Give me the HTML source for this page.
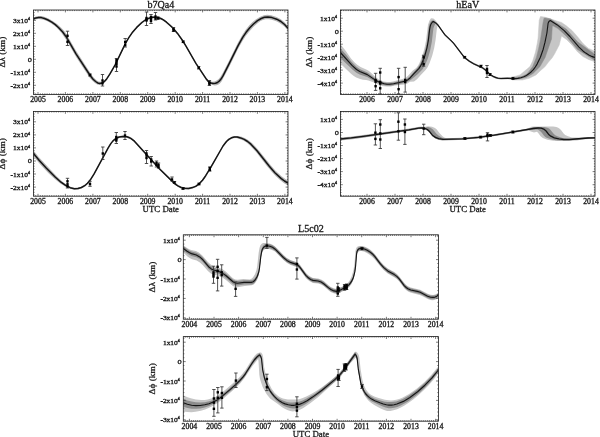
<!DOCTYPE html><html><head><meta charset="utf-8"><style>html,body{margin:0;padding:0;background:#fff;}svg{display:block;filter:blur(0.35px);}text{font-family:"Liberation Serif", serif;fill:#1a1a1a;stroke:#1a1a1a;stroke-width:0.3px;}</style></head><body>
<svg width="600" height="437" viewBox="0 0 600 437">
<rect width="600" height="437" fill="#fff"/>
<defs>
<clipPath id="c0"><rect x="33.5" y="10" width="254.5" height="84.4"/></clipPath>
<clipPath id="c1"><rect x="33.5" y="111.4" width="254.5" height="84.8"/></clipPath>
<clipPath id="c2"><rect x="340.4" y="10" width="254.6" height="84.4"/></clipPath>
<clipPath id="c3"><rect x="340.4" y="111.4" width="254.6" height="84.8"/></clipPath>
<clipPath id="c4"><rect x="183.3" y="234.8" width="255.1" height="84.4"/></clipPath>
<clipPath id="c5"><rect x="183.3" y="336.6" width="255.1" height="84.6"/></clipPath>
</defs>
<g clip-path="url(#c0)">
<path d="M33.5 17.5 35.9 16.4 38.7 15.9 41.7 16.1 44.9 16.9 48.5 18.5 52.3 20.7 57.3 24.2 60.7 27.2 64.3 31.1 66.7 34.5 75.9 50.6 91.5 74.7 93.9 77.7 96.3 80.1 98.3 81.4 100.3 81.8 102.5 81.4 104.7 80 106.7 77.8 110.1 72.8 115.1 63.9 125.5 42.2 128.7 36.7 132.1 31.8 136.7 26.4 141.7 21.6 145.7 18.7 149.7 16.9 152.5 16.3 155.3 16.2 158.1 16.6 160.5 17.4 163.1 18.7 166.1 20.9 169.3 23.5 172.5 26.6 177.3 32.1 181.9 38.5 185.9 45 196.1 62.8 206.3 77.8 207.5 79.2 208.9 80.5 210.5 81.3 212.1 81.7 214.5 81.4 216.7 80.5 218.7 79 220.5 76.8 222.9 72.8 228.7 61.5 237.9 42.7 242.3 34.9 245.7 29.7 249.3 25.2 252.3 22.2 255.7 19.4 259.7 16.9 263.9 15.2 267.3 14.8 271.1 15.2 275.9 16.7 280.5 19.1 284.5 22.2 287.9 26 287.9 30.4 284.1 26.2 279.5 22.9 276.9 21.5 274.1 20.4 271.5 19.7 268.9 19.2 265.7 19.3 262.9 19.9 260.5 21.1 257.5 23.3 253.3 27.1 248.9 32 245.7 36.1 242.5 41 237.7 49.5 229.3 66.7 221.7 81.2 220.1 83.2 218.5 84.5 216.7 85.2 214.7 85.4 212.7 85.1 210.1 84.1 208.5 83 206.9 81.2 195.7 64.1 186.1 47.3 182.1 40.8 177.1 33.9 172.1 28.2 168.9 25.2 165.7 22.6 162.7 20.5 160.3 19.3 157.9 18.6 155.1 18.2 152.3 18.4 149.5 19 145.5 20.8 141.5 23.8 136.5 28.6 131.9 34.1 128.7 38.7 125.7 43.9 114.7 66.7 112.1 71.5 109.1 76.3 106.3 80.5 104.3 82.8 101.9 84.5 99.5 85.1 97.3 84.6 94.9 83.1 92.1 80.5 89.5 77.4 76.1 56.9 66.3 39.9 61.5 33.1 56.5 27.6 54.1 25.5 50.5 23 46.9 21.1 43.5 19.8 40.7 19.2 38.1 19.1 35.7 19.5 33.5 20.5Z" fill="#b4b4b4"/>
<path d="M33.5 19 35.9 17.9 38.6 17.5 41.3 17.6 44.5 18.5 48 20 51.8 22.1 55.3 24.6 58.7 27.7 62.7 32 66.4 37.1 76 53.9 90.5 76 93.1 79.2 95.6 81.5 97.7 82.9 99.7 83.4 102.2 82.9 104.6 81.3 106.7 78.9 109.8 74.2 115 65.1 125.6 43.1 128.8 37.6 132.1 32.8 136.7 27.4 141.9 22.5 146 19.5 149.9 17.9 152.7 17.3 155.5 17.2 158.3 17.7 160.8 18.5 163.4 19.9 166.5 22.2 172.7 27.8 177.5 33.4 182.2 40 186 46.1 195.9 63.4 206.5 79.3 208 81.1 209.3 82.2 211.1 83 213 83.4 215.5 83.3 217.5 82.5 219.2 81.2 221 79.1 223 75.9 228.8 64.4 238.1 45.6 242.7 37.4 246.1 32.3 249.8 27.8 253.5 24 257.5 20.7 261.2 18.5 264.4 17.3 267.9 17 272 17.6 276.7 19.2 280.9 21.5 284.6 24.5 288 28.3" fill="none" stroke="#151515" stroke-width="1.5" stroke-linejoin="round"/>
<path d="M67.5 31.2V45.5M65.8 31.2h3.4M65.8 45.5h3.4" stroke="#333" stroke-width="0.85" fill="none"/>
<rect x="66.3" y="34.6" width="2.4" height="2.4" fill="#000"/>
<rect x="66.3" y="40.6" width="2.4" height="2.4" fill="#000"/>
<path d="M90 74V76M88.3 74h3.4M88.3 76h3.4" stroke="#333" stroke-width="0.85" fill="none"/>
<rect x="88.8" y="73.8" width="2.4" height="2.4" fill="#000"/>
<path d="M102.5 74.5V86M100.8 74.5h3.4M100.8 86h3.4" stroke="#333" stroke-width="0.85" fill="none"/>
<rect x="101.3" y="79.3" width="2.4" height="2.4" fill="#000"/>
<rect x="101.3" y="82.1" width="2.4" height="2.4" fill="#000"/>
<path d="M116.5 58.5V71.5M114.8 58.5h3.4M114.8 71.5h3.4" stroke="#333" stroke-width="0.85" fill="none"/>
<rect x="115.3" y="58.8" width="2.4" height="2.4" fill="#000"/>
<rect x="115.3" y="60.8" width="2.4" height="2.4" fill="#000"/>
<rect x="115.3" y="62.8" width="2.4" height="2.4" fill="#000"/>
<rect x="115.3" y="65.3" width="2.4" height="2.4" fill="#000"/>
<path d="M125.2 38.5V47M123.5 38.5h3.4M123.5 47h3.4" stroke="#333" stroke-width="0.85" fill="none"/>
<rect x="124" y="40.8" width="2.4" height="2.4" fill="#000"/>
<rect x="124" y="43.8" width="2.4" height="2.4" fill="#000"/>
<path d="M146.5 12V25.5M144.8 12h3.4M144.8 25.5h3.4" stroke="#333" stroke-width="0.85" fill="none"/>
<rect x="145.3" y="16.8" width="2.4" height="2.4" fill="#000"/>
<rect x="145.3" y="18.3" width="2.4" height="2.4" fill="#000"/>
<rect x="145.3" y="19.3" width="2.4" height="2.4" fill="#000"/>
<path d="M151 14.5V23.5M149.3 14.5h3.4M149.3 23.5h3.4" stroke="#333" stroke-width="0.85" fill="none"/>
<rect x="149.8" y="15.8" width="2.4" height="2.4" fill="#000"/>
<rect x="149.8" y="17.8" width="2.4" height="2.4" fill="#000"/>
<rect x="149.8" y="19.8" width="2.4" height="2.4" fill="#000"/>
<path d="M155.5 12.5V20M153.8 12.5h3.4M153.8 20h3.4" stroke="#333" stroke-width="0.85" fill="none"/>
<rect x="154.3" y="15.3" width="2.4" height="2.4" fill="#000"/>
<rect x="154.3" y="17.3" width="2.4" height="2.4" fill="#000"/>
<path d="M158 17V19.5M156.3 17h3.4M156.3 19.5h3.4" stroke="#333" stroke-width="0.85" fill="none"/>
<rect x="156.8" y="16.8" width="2.4" height="2.4" fill="#000"/>
<path d="M173.5 27.5V31.5M171.8 27.5h3.4M171.8 31.5h3.4" stroke="#333" stroke-width="0.85" fill="none"/>
<rect x="172.3" y="27.8" width="2.4" height="2.4" fill="#000"/>
<rect x="172.3" y="29.3" width="2.4" height="2.4" fill="#000"/>
<path d="M183.2 41V42.6M181.5 41h3.4M181.5 42.6h3.4" stroke="#333" stroke-width="0.85" fill="none"/>
<rect x="182" y="40.6" width="2.4" height="2.4" fill="#000"/>
<path d="M198.7 66.5V69M197 66.5h3.4M197 69h3.4" stroke="#333" stroke-width="0.85" fill="none"/>
<rect x="197.5" y="66.5" width="2.4" height="2.4" fill="#000"/>
<path d="M209.4 80.5V85.5M207.7 80.5h3.4M207.7 85.5h3.4" stroke="#333" stroke-width="0.85" fill="none"/>
<rect x="208.2" y="81.3" width="2.4" height="2.4" fill="#000"/>
<rect x="208.2" y="82.8" width="2.4" height="2.4" fill="#000"/>
</g>
<path d="M35.7 94.4v-1.1M35.7 10v1.1M38 94.4v-2.4M38 10v2.4M40.3 94.4v-1.1M40.3 10v1.1M42.6 94.4v-1.1M42.6 10v1.1M44.9 94.4v-1.1M44.9 10v1.1M47.1 94.4v-1.1M47.1 10v1.1M49.4 94.4v-1.1M49.4 10v1.1M51.7 94.4v-1.1M51.7 10v1.1M54 94.4v-1.1M54 10v1.1M56.3 94.4v-1.1M56.3 10v1.1M58.6 94.4v-1.1M58.6 10v1.1M60.9 94.4v-1.1M60.9 10v1.1M63.1 94.4v-1.1M63.1 10v1.1M65.4 94.4v-2.4M65.4 10v2.4M67.7 94.4v-1.1M67.7 10v1.1M70 94.4v-1.1M70 10v1.1M72.3 94.4v-1.1M72.3 10v1.1M74.6 94.4v-1.1M74.6 10v1.1M76.9 94.4v-1.1M76.9 10v1.1M79.1 94.4v-1.1M79.1 10v1.1M81.4 94.4v-1.1M81.4 10v1.1M83.7 94.4v-1.1M83.7 10v1.1M86 94.4v-1.1M86 10v1.1M88.3 94.4v-1.1M88.3 10v1.1M90.6 94.4v-1.1M90.6 10v1.1M92.9 94.4v-2.4M92.9 10v2.4M95.1 94.4v-1.1M95.1 10v1.1M97.4 94.4v-1.1M97.4 10v1.1M99.7 94.4v-1.1M99.7 10v1.1M102 94.4v-1.1M102 10v1.1M104.3 94.4v-1.1M104.3 10v1.1M106.6 94.4v-1.1M106.6 10v1.1M108.9 94.4v-1.1M108.9 10v1.1M111.1 94.4v-1.1M111.1 10v1.1M113.4 94.4v-1.1M113.4 10v1.1M115.7 94.4v-1.1M115.7 10v1.1M118 94.4v-1.1M118 10v1.1M120.3 94.4v-2.4M120.3 10v2.4M122.6 94.4v-1.1M122.6 10v1.1M124.9 94.4v-1.1M124.9 10v1.1M127.1 94.4v-1.1M127.1 10v1.1M129.4 94.4v-1.1M129.4 10v1.1M131.7 94.4v-1.1M131.7 10v1.1M134 94.4v-1.1M134 10v1.1M136.3 94.4v-1.1M136.3 10v1.1M138.6 94.4v-1.1M138.6 10v1.1M140.9 94.4v-1.1M140.9 10v1.1M143.1 94.4v-1.1M143.1 10v1.1M145.4 94.4v-1.1M145.4 10v1.1M147.7 94.4v-2.4M147.7 10v2.4M150 94.4v-1.1M150 10v1.1M152.3 94.4v-1.1M152.3 10v1.1M154.6 94.4v-1.1M154.6 10v1.1M156.9 94.4v-1.1M156.9 10v1.1M159.1 94.4v-1.1M159.1 10v1.1M161.4 94.4v-1.1M161.4 10v1.1M163.7 94.4v-1.1M163.7 10v1.1M166 94.4v-1.1M166 10v1.1M168.3 94.4v-1.1M168.3 10v1.1M170.6 94.4v-1.1M170.6 10v1.1M172.9 94.4v-1.1M172.9 10v1.1M175.2 94.4v-2.4M175.2 10v2.4M177.4 94.4v-1.1M177.4 10v1.1M179.7 94.4v-1.1M179.7 10v1.1M182 94.4v-1.1M182 10v1.1M184.3 94.4v-1.1M184.3 10v1.1M186.6 94.4v-1.1M186.6 10v1.1M188.9 94.4v-1.1M188.9 10v1.1M191.2 94.4v-1.1M191.2 10v1.1M193.4 94.4v-1.1M193.4 10v1.1M195.7 94.4v-1.1M195.7 10v1.1M198 94.4v-1.1M198 10v1.1M200.3 94.4v-1.1M200.3 10v1.1M202.6 94.4v-2.4M202.6 10v2.4M204.9 94.4v-1.1M204.9 10v1.1M207.2 94.4v-1.1M207.2 10v1.1M209.4 94.4v-1.1M209.4 10v1.1M211.7 94.4v-1.1M211.7 10v1.1M214 94.4v-1.1M214 10v1.1M216.3 94.4v-1.1M216.3 10v1.1M218.6 94.4v-1.1M218.6 10v1.1M220.9 94.4v-1.1M220.9 10v1.1M223.2 94.4v-1.1M223.2 10v1.1M225.4 94.4v-1.1M225.4 10v1.1M227.7 94.4v-1.1M227.7 10v1.1M230 94.4v-2.4M230 10v2.4M232.3 94.4v-1.1M232.3 10v1.1M234.6 94.4v-1.1M234.6 10v1.1M236.9 94.4v-1.1M236.9 10v1.1M239.2 94.4v-1.1M239.2 10v1.1M241.4 94.4v-1.1M241.4 10v1.1M243.7 94.4v-1.1M243.7 10v1.1M246 94.4v-1.1M246 10v1.1M248.3 94.4v-1.1M248.3 10v1.1M250.6 94.4v-1.1M250.6 10v1.1M252.9 94.4v-1.1M252.9 10v1.1M255.2 94.4v-1.1M255.2 10v1.1M257.4 94.4v-2.4M257.4 10v2.4M259.7 94.4v-1.1M259.7 10v1.1M262 94.4v-1.1M262 10v1.1M264.3 94.4v-1.1M264.3 10v1.1M266.6 94.4v-1.1M266.6 10v1.1M268.9 94.4v-1.1M268.9 10v1.1M271.2 94.4v-1.1M271.2 10v1.1M273.4 94.4v-1.1M273.4 10v1.1M275.7 94.4v-1.1M275.7 10v1.1M278 94.4v-1.1M278 10v1.1M280.3 94.4v-1.1M280.3 10v1.1M282.6 94.4v-1.1M282.6 10v1.1M284.9 94.4v-2.4M284.9 10v2.4M287.2 94.4v-1.1M287.2 10v1.1M33.5 93h1.1M288 93h-1.1M33.5 90.5h1.1M288 90.5h-1.1M33.5 87.9h1.1M288 87.9h-1.1M33.5 85.3h2.4M288 85.3h-2.4M33.5 82.7h1.1M288 82.7h-1.1M33.5 80.1h1.1M288 80.1h-1.1M33.5 77.5h1.1M288 77.5h-1.1M33.5 74.9h1.1M288 74.9h-1.1M33.5 72.3h2.4M288 72.3h-2.4M33.5 69.7h1.1M288 69.7h-1.1M33.5 67.1h1.1M288 67.1h-1.1M33.5 64.5h1.1M288 64.5h-1.1M33.5 61.9h1.1M288 61.9h-1.1M33.5 59.3h2.4M288 59.3h-2.4M33.5 56.7h1.1M288 56.7h-1.1M33.5 54.1h1.1M288 54.1h-1.1M33.5 51.5h1.1M288 51.5h-1.1M33.5 48.9h1.1M288 48.9h-1.1M33.5 46.3h2.4M288 46.3h-2.4M33.5 43.7h1.1M288 43.7h-1.1M33.5 41.1h1.1M288 41.1h-1.1M33.5 38.5h1.1M288 38.5h-1.1M33.5 35.9h1.1M288 35.9h-1.1M33.5 33.3h2.4M288 33.3h-2.4M33.5 30.7h1.1M288 30.7h-1.1M33.5 28.1h1.1M288 28.1h-1.1M33.5 25.6h1.1M288 25.6h-1.1M33.5 23h1.1M288 23h-1.1M33.5 20.4h2.4M288 20.4h-2.4M33.5 17.8h1.1M288 17.8h-1.1M33.5 15.2h1.1M288 15.2h-1.1M33.5 12.6h1.1M288 12.6h-1.1" stroke="#222" stroke-width="0.6" fill="none"/>
<rect x="33.5" y="10" width="254.5" height="84.4" fill="none" stroke="#1a1a1a" stroke-width="0.8"/>
<text transform="translate(38 102.3) scale(1.07 1)" font-size="7.3" text-anchor="middle">2005</text>
<text transform="translate(65.4 102.3) scale(1.07 1)" font-size="7.3" text-anchor="middle">2006</text>
<text transform="translate(92.9 102.3) scale(1.07 1)" font-size="7.3" text-anchor="middle">2007</text>
<text transform="translate(120.3 102.3) scale(1.07 1)" font-size="7.3" text-anchor="middle">2008</text>
<text transform="translate(147.7 102.3) scale(1.07 1)" font-size="7.3" text-anchor="middle">2009</text>
<text transform="translate(175.2 102.3) scale(1.07 1)" font-size="7.3" text-anchor="middle">2010</text>
<text transform="translate(202.6 102.3) scale(1.07 1)" font-size="7.3" text-anchor="middle">2011</text>
<text transform="translate(230 102.3) scale(1.07 1)" font-size="7.3" text-anchor="middle">2012</text>
<text transform="translate(257.4 102.3) scale(1.07 1)" font-size="7.3" text-anchor="middle">2013</text>
<text transform="translate(284.9 102.3) scale(1.07 1)" font-size="7.3" text-anchor="middle">2014</text>
<text transform="translate(30.1 22.9) scale(1.15 1)" font-size="6.5" text-anchor="end">3x10<tspan font-size="4.0" dy="-2.9" dx="-0.2">4</tspan></text>
<text transform="translate(30.1 35.8) scale(1.15 1)" font-size="6.5" text-anchor="end">2x10<tspan font-size="4.0" dy="-2.9" dx="-0.2">4</tspan></text>
<text transform="translate(30.1 48.8) scale(1.15 1)" font-size="6.5" text-anchor="end">1x10<tspan font-size="4.0" dy="-2.9" dx="-0.2">4</tspan></text>
<text transform="translate(32 61.7) scale(1.2 1)" font-size="7.0" text-anchor="end">0</text>
<text transform="translate(30.1 74.8) scale(1.15 1)" font-size="6.5" text-anchor="end">-1x10<tspan font-size="4.0" dy="-2.9" dx="-0.2">4</tspan></text>
<text transform="translate(30.1 87.8) scale(1.15 1)" font-size="6.5" text-anchor="end">-2x10<tspan font-size="4.0" dy="-2.9" dx="-0.2">4</tspan></text>
<text transform="translate(5.1 52.2) rotate(-90) scale(1 0.78)" font-size="9.3" text-anchor="middle">Δλ (km)</text>
<text transform="translate(160.8 7.6) scale(1.07 1)" font-size="9.4" text-anchor="middle">b7Qa4</text>
<g clip-path="url(#c1)">
<path d="M33.5 150.5 38.7 156.9 44.7 163.6 56.7 176.2 62.3 181.4 66.3 184.5 70.1 186.7 74.1 187.7 77.7 187.6 81.1 186.7 84.5 184.8 87.5 182.3 90.3 179 94.1 173 108.3 146.6 110.9 142.5 113.1 139.8 115.9 137.5 119.3 136 123.1 135.4 126.9 135.8 128.9 136.4 130.9 137.4 134.5 140.3 159.3 167.7 174.5 182.5 177.9 185 181.1 186.5 184.7 187.3 188.3 187.4 192.3 186.7 195.9 185.2 199.1 182.8 202.3 179.5 205.5 175 210.7 166.6 223.1 144.9 224.9 142.3 226.7 140.2 229.3 138 231.9 136.7 234.5 136.1 238.1 136 241.7 136.8 245.1 138.2 248.5 140.3 251.9 143 255.1 146.2 259.1 150.7 270.1 164.6 275.3 170.5 281.5 176.3 287.9 180.7 287.9 185.5 284.1 183.2 280.3 180.3 275.9 176.3 271.5 171.6 266.5 165.5 256.1 152.1 250.5 145.9 246.9 142.8 243.3 140.5 239.5 138.9 236.1 138.1 233.3 138.3 230.3 139.4 227.7 141.2 225.1 144 222.3 148.3 214.7 161.9 207.3 174.2 203.9 179.4 200.9 183.1 198.1 185.7 195.3 187.5 192.1 188.8 188.7 189.4 184.9 189.4 181.3 188.6 178.1 187.1 174.7 184.6 159.5 169.9 134.5 142.3 132.5 140.5 130.7 139.3 128.7 138.4 126.7 137.8 122.9 137.4 119.1 138.1 115.7 139.6 112.9 142 110.7 144.8 108.1 148.9 94.1 175 90.3 181 87.5 184.3 84.7 186.7 81.5 188.5 78.3 189.5 74.7 189.7 71.1 189 65.5 186.8 60.3 183.6 55.1 179.3 48.3 173 40.3 164.5 33.5 156.5Z" fill="#b4b4b4"/>
<path d="M33.5 153.5 39.3 160.5 46.2 168 55.4 177.3 61 182.2 65.6 185.4 70.2 187.7 74.3 188.7 78 188.5 81.4 187.5 84.7 185.7 87.5 183.3 90.2 180.1 94.1 173.9 108.2 147.8 110.8 143.6 113 140.9 115.8 138.5 119.2 137 122.9 136.4 126.9 136.8 128.9 137.5 130.8 138.4 134.4 141.2 159.4 168.8 174.6 183.6 177.9 185.9 181.2 187.5 184.9 188.3 188.6 188.4 192.5 187.6 196.1 186.1 199.4 183.6 202.5 180.2 205.7 175.7 210.9 167.2 223 146 226.5 141.5 228.8 139.4 231.5 137.8 234.3 137.1 237.2 137.1 240.6 137.9 244.2 139.4 247.6 141.5 250.9 144.2 257 150.7 269.3 166.3 274.9 172.7 281.3 178.6 284.5 181 288 183.2" fill="none" stroke="#151515" stroke-width="1.5" stroke-linejoin="round"/>
<path d="M67.5 178.3V188M65.8 178.3h3.4M65.8 188h3.4" stroke="#333" stroke-width="0.85" fill="none"/>
<rect x="66.3" y="180.1" width="2.4" height="2.4" fill="#000"/>
<rect x="66.3" y="183.1" width="2.4" height="2.4" fill="#000"/>
<rect x="66.3" y="185.1" width="2.4" height="2.4" fill="#000"/>
<path d="M90 181.3V186.3M88.3 181.3h3.4M88.3 186.3h3.4" stroke="#333" stroke-width="0.85" fill="none"/>
<rect x="88.8" y="182.8" width="2.4" height="2.4" fill="#000"/>
<path d="M102.8 147V159.5M101.1 147h3.4M101.1 159.5h3.4" stroke="#333" stroke-width="0.85" fill="none"/>
<rect x="101.6" y="152.3" width="2.4" height="2.4" fill="#000"/>
<path d="M116.3 132.5V143.5M114.6 132.5h3.4M114.6 143.5h3.4" stroke="#333" stroke-width="0.85" fill="none"/>
<rect x="115.1" y="135.8" width="2.4" height="2.4" fill="#000"/>
<rect x="115.1" y="137.8" width="2.4" height="2.4" fill="#000"/>
<rect x="115.1" y="139.3" width="2.4" height="2.4" fill="#000"/>
<path d="M125 131.5V139.5M123.3 131.5h3.4M123.3 139.5h3.4" stroke="#333" stroke-width="0.85" fill="none"/>
<rect x="123.8" y="134.3" width="2.4" height="2.4" fill="#000"/>
<path d="M146.5 150.5V163.5M144.8 150.5h3.4M144.8 163.5h3.4" stroke="#333" stroke-width="0.85" fill="none"/>
<rect x="145.3" y="152.3" width="2.4" height="2.4" fill="#000"/>
<rect x="145.3" y="154.3" width="2.4" height="2.4" fill="#000"/>
<rect x="145.3" y="156.8" width="2.4" height="2.4" fill="#000"/>
<path d="M151.2 156.5V166M149.5 156.5h3.4M149.5 166h3.4" stroke="#333" stroke-width="0.85" fill="none"/>
<rect x="150" y="158.3" width="2.4" height="2.4" fill="#000"/>
<rect x="150" y="160.3" width="2.4" height="2.4" fill="#000"/>
<path d="M156.5 161V167M154.8 161h3.4M154.8 167h3.4" stroke="#333" stroke-width="0.85" fill="none"/>
<rect x="155.3" y="161.8" width="2.4" height="2.4" fill="#000"/>
<rect x="155.3" y="163.8" width="2.4" height="2.4" fill="#000"/>
<path d="M158.5 163V168M156.8 163h3.4M156.8 168h3.4" stroke="#333" stroke-width="0.85" fill="none"/>
<rect x="157.3" y="163.8" width="2.4" height="2.4" fill="#000"/>
<rect x="157.3" y="165.8" width="2.4" height="2.4" fill="#000"/>
<path d="M172 177V181M170.3 177h3.4M170.3 181h3.4" stroke="#333" stroke-width="0.85" fill="none"/>
<rect x="170.8" y="178.3" width="2.4" height="2.4" fill="#000"/>
<path d="M174.5 181.5V183.5M172.8 181.5h3.4M172.8 183.5h3.4" stroke="#333" stroke-width="0.85" fill="none"/>
<rect x="173.3" y="181.3" width="2.4" height="2.4" fill="#000"/>
<path d="M183 187.7V189.3M181.3 187.7h3.4M181.3 189.3h3.4" stroke="#333" stroke-width="0.85" fill="none"/>
<rect x="181.8" y="187.3" width="2.4" height="2.4" fill="#000"/>
<path d="M199 183.2V184.8M197.3 183.2h3.4M197.3 184.8h3.4" stroke="#333" stroke-width="0.85" fill="none"/>
<rect x="197.8" y="182.8" width="2.4" height="2.4" fill="#000"/>
<path d="M209.8 167V171M208.1 167h3.4M208.1 171h3.4" stroke="#333" stroke-width="0.85" fill="none"/>
<rect x="208.6" y="166.8" width="2.4" height="2.4" fill="#000"/>
<rect x="208.6" y="168.8" width="2.4" height="2.4" fill="#000"/>
</g>
<path d="M35.7 196.2v-1.1M35.7 111.4v1.1M38 196.2v-2.4M38 111.4v2.4M40.3 196.2v-1.1M40.3 111.4v1.1M42.6 196.2v-1.1M42.6 111.4v1.1M44.9 196.2v-1.1M44.9 111.4v1.1M47.1 196.2v-1.1M47.1 111.4v1.1M49.4 196.2v-1.1M49.4 111.4v1.1M51.7 196.2v-1.1M51.7 111.4v1.1M54 196.2v-1.1M54 111.4v1.1M56.3 196.2v-1.1M56.3 111.4v1.1M58.6 196.2v-1.1M58.6 111.4v1.1M60.9 196.2v-1.1M60.9 111.4v1.1M63.1 196.2v-1.1M63.1 111.4v1.1M65.4 196.2v-2.4M65.4 111.4v2.4M67.7 196.2v-1.1M67.7 111.4v1.1M70 196.2v-1.1M70 111.4v1.1M72.3 196.2v-1.1M72.3 111.4v1.1M74.6 196.2v-1.1M74.6 111.4v1.1M76.9 196.2v-1.1M76.9 111.4v1.1M79.1 196.2v-1.1M79.1 111.4v1.1M81.4 196.2v-1.1M81.4 111.4v1.1M83.7 196.2v-1.1M83.7 111.4v1.1M86 196.2v-1.1M86 111.4v1.1M88.3 196.2v-1.1M88.3 111.4v1.1M90.6 196.2v-1.1M90.6 111.4v1.1M92.9 196.2v-2.4M92.9 111.4v2.4M95.1 196.2v-1.1M95.1 111.4v1.1M97.4 196.2v-1.1M97.4 111.4v1.1M99.7 196.2v-1.1M99.7 111.4v1.1M102 196.2v-1.1M102 111.4v1.1M104.3 196.2v-1.1M104.3 111.4v1.1M106.6 196.2v-1.1M106.6 111.4v1.1M108.9 196.2v-1.1M108.9 111.4v1.1M111.1 196.2v-1.1M111.1 111.4v1.1M113.4 196.2v-1.1M113.4 111.4v1.1M115.7 196.2v-1.1M115.7 111.4v1.1M118 196.2v-1.1M118 111.4v1.1M120.3 196.2v-2.4M120.3 111.4v2.4M122.6 196.2v-1.1M122.6 111.4v1.1M124.9 196.2v-1.1M124.9 111.4v1.1M127.1 196.2v-1.1M127.1 111.4v1.1M129.4 196.2v-1.1M129.4 111.4v1.1M131.7 196.2v-1.1M131.7 111.4v1.1M134 196.2v-1.1M134 111.4v1.1M136.3 196.2v-1.1M136.3 111.4v1.1M138.6 196.2v-1.1M138.6 111.4v1.1M140.9 196.2v-1.1M140.9 111.4v1.1M143.1 196.2v-1.1M143.1 111.4v1.1M145.4 196.2v-1.1M145.4 111.4v1.1M147.7 196.2v-2.4M147.7 111.4v2.4M150 196.2v-1.1M150 111.4v1.1M152.3 196.2v-1.1M152.3 111.4v1.1M154.6 196.2v-1.1M154.6 111.4v1.1M156.9 196.2v-1.1M156.9 111.4v1.1M159.1 196.2v-1.1M159.1 111.4v1.1M161.4 196.2v-1.1M161.4 111.4v1.1M163.7 196.2v-1.1M163.7 111.4v1.1M166 196.2v-1.1M166 111.4v1.1M168.3 196.2v-1.1M168.3 111.4v1.1M170.6 196.2v-1.1M170.6 111.4v1.1M172.9 196.2v-1.1M172.9 111.4v1.1M175.2 196.2v-2.4M175.2 111.4v2.4M177.4 196.2v-1.1M177.4 111.4v1.1M179.7 196.2v-1.1M179.7 111.4v1.1M182 196.2v-1.1M182 111.4v1.1M184.3 196.2v-1.1M184.3 111.4v1.1M186.6 196.2v-1.1M186.6 111.4v1.1M188.9 196.2v-1.1M188.9 111.4v1.1M191.2 196.2v-1.1M191.2 111.4v1.1M193.4 196.2v-1.1M193.4 111.4v1.1M195.7 196.2v-1.1M195.7 111.4v1.1M198 196.2v-1.1M198 111.4v1.1M200.3 196.2v-1.1M200.3 111.4v1.1M202.6 196.2v-2.4M202.6 111.4v2.4M204.9 196.2v-1.1M204.9 111.4v1.1M207.2 196.2v-1.1M207.2 111.4v1.1M209.4 196.2v-1.1M209.4 111.4v1.1M211.7 196.2v-1.1M211.7 111.4v1.1M214 196.2v-1.1M214 111.4v1.1M216.3 196.2v-1.1M216.3 111.4v1.1M218.6 196.2v-1.1M218.6 111.4v1.1M220.9 196.2v-1.1M220.9 111.4v1.1M223.2 196.2v-1.1M223.2 111.4v1.1M225.4 196.2v-1.1M225.4 111.4v1.1M227.7 196.2v-1.1M227.7 111.4v1.1M230 196.2v-2.4M230 111.4v2.4M232.3 196.2v-1.1M232.3 111.4v1.1M234.6 196.2v-1.1M234.6 111.4v1.1M236.9 196.2v-1.1M236.9 111.4v1.1M239.2 196.2v-1.1M239.2 111.4v1.1M241.4 196.2v-1.1M241.4 111.4v1.1M243.7 196.2v-1.1M243.7 111.4v1.1M246 196.2v-1.1M246 111.4v1.1M248.3 196.2v-1.1M248.3 111.4v1.1M250.6 196.2v-1.1M250.6 111.4v1.1M252.9 196.2v-1.1M252.9 111.4v1.1M255.2 196.2v-1.1M255.2 111.4v1.1M257.4 196.2v-2.4M257.4 111.4v2.4M259.7 196.2v-1.1M259.7 111.4v1.1M262 196.2v-1.1M262 111.4v1.1M264.3 196.2v-1.1M264.3 111.4v1.1M266.6 196.2v-1.1M266.6 111.4v1.1M268.9 196.2v-1.1M268.9 111.4v1.1M271.2 196.2v-1.1M271.2 111.4v1.1M273.4 196.2v-1.1M273.4 111.4v1.1M275.7 196.2v-1.1M275.7 111.4v1.1M278 196.2v-1.1M278 111.4v1.1M280.3 196.2v-1.1M280.3 111.4v1.1M282.6 196.2v-1.1M282.6 111.4v1.1M284.9 196.2v-2.4M284.9 111.4v2.4M287.2 196.2v-1.1M287.2 111.4v1.1M33.5 194.9h1.1M288 194.9h-1.1M33.5 192.3h1.1M288 192.3h-1.1M33.5 189.7h1.1M288 189.7h-1.1M33.5 187.1h2.4M288 187.1h-2.4M33.5 184.5h1.1M288 184.5h-1.1M33.5 181.9h1.1M288 181.9h-1.1M33.5 179.3h1.1M288 179.3h-1.1M33.5 176.7h1.1M288 176.7h-1.1M33.5 174h2.4M288 174h-2.4M33.5 171.4h1.1M288 171.4h-1.1M33.5 168.8h1.1M288 168.8h-1.1M33.5 166.2h1.1M288 166.2h-1.1M33.5 163.6h1.1M288 163.6h-1.1M33.5 161h2.4M288 161h-2.4M33.5 158.4h1.1M288 158.4h-1.1M33.5 155.8h1.1M288 155.8h-1.1M33.5 153.2h1.1M288 153.2h-1.1M33.5 150.6h1.1M288 150.6h-1.1M33.5 147.9h2.4M288 147.9h-2.4M33.5 145.3h1.1M288 145.3h-1.1M33.5 142.7h1.1M288 142.7h-1.1M33.5 140.1h1.1M288 140.1h-1.1M33.5 137.5h1.1M288 137.5h-1.1M33.5 134.9h2.4M288 134.9h-2.4M33.5 132.3h1.1M288 132.3h-1.1M33.5 129.7h1.1M288 129.7h-1.1M33.5 127.1h1.1M288 127.1h-1.1M33.5 124.5h1.1M288 124.5h-1.1M33.5 121.8h2.4M288 121.8h-2.4M33.5 119.2h1.1M288 119.2h-1.1M33.5 116.6h1.1M288 116.6h-1.1M33.5 114h1.1M288 114h-1.1" stroke="#222" stroke-width="0.6" fill="none"/>
<rect x="33.5" y="111.4" width="254.5" height="84.8" fill="none" stroke="#1a1a1a" stroke-width="0.8"/>
<text transform="translate(38 204.1) scale(1.07 1)" font-size="7.3" text-anchor="middle">2005</text>
<text transform="translate(65.4 204.1) scale(1.07 1)" font-size="7.3" text-anchor="middle">2006</text>
<text transform="translate(92.9 204.1) scale(1.07 1)" font-size="7.3" text-anchor="middle">2007</text>
<text transform="translate(120.3 204.1) scale(1.07 1)" font-size="7.3" text-anchor="middle">2008</text>
<text transform="translate(147.7 204.1) scale(1.07 1)" font-size="7.3" text-anchor="middle">2009</text>
<text transform="translate(175.2 204.1) scale(1.07 1)" font-size="7.3" text-anchor="middle">2010</text>
<text transform="translate(202.6 204.1) scale(1.07 1)" font-size="7.3" text-anchor="middle">2011</text>
<text transform="translate(230 204.1) scale(1.07 1)" font-size="7.3" text-anchor="middle">2012</text>
<text transform="translate(257.4 204.1) scale(1.07 1)" font-size="7.3" text-anchor="middle">2013</text>
<text transform="translate(284.9 204.1) scale(1.07 1)" font-size="7.3" text-anchor="middle">2014</text>
<text transform="translate(30.1 124.3) scale(1.15 1)" font-size="6.5" text-anchor="end">3x10<tspan font-size="4.0" dy="-2.9" dx="-0.2">4</tspan></text>
<text transform="translate(30.1 137.4) scale(1.15 1)" font-size="6.5" text-anchor="end">2x10<tspan font-size="4.0" dy="-2.9" dx="-0.2">4</tspan></text>
<text transform="translate(30.1 150.4) scale(1.15 1)" font-size="6.5" text-anchor="end">1x10<tspan font-size="4.0" dy="-2.9" dx="-0.2">4</tspan></text>
<text transform="translate(32 163.4) scale(1.2 1)" font-size="7.0" text-anchor="end">0</text>
<text transform="translate(30.1 176.6) scale(1.15 1)" font-size="6.5" text-anchor="end">-1x10<tspan font-size="4.0" dy="-2.9" dx="-0.2">4</tspan></text>
<text transform="translate(30.1 189.6) scale(1.15 1)" font-size="6.5" text-anchor="end">-2x10<tspan font-size="4.0" dy="-2.9" dx="-0.2">4</tspan></text>
<text transform="translate(5.1 153.8) rotate(-90) scale(1 0.78)" font-size="9.3" text-anchor="middle">Δϕ (km)</text>
<text x="160.8" y="212" font-size="8.8" text-anchor="middle">UTC Date</text>
<g clip-path="url(#c2)">
<path d="M340.4 44 346 51.2 351 58.5 354.4 62.3 357.2 64.8 360.6 67.1 366.2 69.5 369 71.1 375.6 77.1 379 79.8 383.4 81.4 387.2 82 390 81.9 393 81.5 405 78.2 407.8 75.9 412.8 70.5 416.2 67.9 417.4 66.6 419 63.9 420.4 60.8 423.6 51.5 425 45.8 426 40.6 428 24.8 429.4 20.7 431 18.2 433.4 18.5 435.4 20.3 438.4 24.3 444.6 33.5 453.2 41.9 456 45.3 461.8 53.2 465.6 57.3 468.4 59.5 471.8 61.7 480.8 65.9 483.2 67.3 485.4 69 489.6 73.1 491.8 74.7 494.4 76.1 497.4 77 501 77.5 507.8 77.2 514.2 77.7 519.2 77.1 522.8 76.1 526.4 74.4 529.6 72.2 532.6 69.4 535.2 66.2 537.4 62.5 539.6 58 541.8 52.4 543.8 46.1 545.4 39.5 547.2 30.3 548.2 21.9 549 20.4 550.2 19.5 553.2 21.2 557 23.7 564 29.4 569.8 35.3 579 46.2 583.2 50.2 585.8 52.1 588.8 53.9 591.8 55.3 595 56.5 595 58.5 594 58.2 588.6 55.8 583.8 52.7 579.2 48.4 569.8 37.3 564 31.4 557 25.7 553.2 23.2 550.2 21.5 548.8 22.6 548 24.7 547 33.4 545 43.3 543.4 49.5 540.6 57.6 537.4 64.5 533.8 70 531.8 72.3 529.6 74.2 527.2 75.9 524.6 77.3 521.8 78.4 519 79.2 514.8 79.7 507.8 79.2 501.2 79.5 498.4 79.2 495.6 78.5 493 77.4 490.6 75.9 485 70.6 482.8 69 473.6 64.7 469.4 62.2 466 59.7 463 56.7 453.6 44.3 444.6 35.5 439.6 28.2 437.6 25.7 436.8 29.2 435.6 39.8 434.2 48 432.2 55.8 429.6 63.1 427.6 67.2 425.6 70 420.8 74.9 417 79.2 414 81.4 410 81.8 407.4 83.4 404.4 84.4 395 85.6 390.8 86.5 386.8 86.6 382.2 86 378.2 84.6 374 82.6 368.4 80.5 366.2 80 363 79.7 360.2 79.1 356.2 77.5 353.8 76 351 73.8 346 69.1 340.4 63.5Z" fill="#c6c6c6"/>
<path d="M512 77.3 520 74.9 530 66.6 532.7 61 535.5 52 537.3 43 538.1 38 539.2 20.3 540.5 16.5 543.6 16.9 549.8 18.6 556.7 21 561.5 22.4 566.3 25.8 572 30.5 577.5 36.7 583 43.6 588.5 48.4 595 51.3 595 61.8 588.5 59.4 583 56.6 577.5 51.8 572 45 566.5 39.5 561.5 36 559.2 45 554.5 54 552 58 548.5 62 545.1 66.6 540 71 536 74.9 529.2 78.3 522.3 80 512 80Z" fill="#c6c6c6" stroke="#c6c6c6" stroke-width="0.5" stroke-linejoin="round"/>
<path d="M340.4 48.5 346 54.6 351 61.3 356.2 66.6 359.6 68.9 367.4 72.6 374.8 78.1 378.2 80.2 381 81.4 383.6 82.2 386.4 82.7 389 82.8 393.2 82.4 404.2 80 407 78.7 409.8 76.4 413.6 71.9 417.8 67.6 419.2 65.6 420.6 63 423.4 56 425.8 47.5 427.2 40.2 428.6 28.1 429.4 24.3 431 21.1 432.2 20.4 433.4 20.3 435.8 21.9 437.8 23.9 444.6 33.7 453.6 42.5 463.2 55.1 465.8 57.7 469 60.2 473.6 62.9 482.8 67.2 485 68.8 490.6 74.1 492.8 75.5 495.2 76.6 498 77.4 500.8 77.7 507.6 77.4 513.8 77.8 517.6 77.6 520.6 77 523.4 76 526.2 74.7 528.8 73 531.2 71 533.2 69 535.2 66.4 537 63.5 540.2 56.8 543.2 48.4 544.8 42.4 546.8 32.7 547.4 29.1 548 22.9 548.8 20.8 550.2 19.7 553.2 21.4 557 23.9 564 29.6 569.8 35.5 579 46.4 583.2 50.4 585.8 52.3 588.8 54.1 591.8 55.5 595 56.7 595 58.3 593 57.6 588.2 55.4 583.8 52.5 579.2 48.2 569.8 37.1 564 31.2 557 25.5 553.2 23 550.2 21.3 548.8 22.4 548 24.5 547.4 30.7 546.8 34.3 544.8 44 543.2 50 540.4 57.9 537.2 64.7 533.6 70.1 531.6 72.3 529.2 74.3 526.6 76.1 524 77.4 521.2 78.4 518.4 79.1 514.6 79.5 507.8 79 501 79.3 498.2 79 495.4 78.2 492.8 77.1 490.6 75.7 485 70.4 482.8 68.8 473.6 64.5 469.2 61.9 466 59.5 463.2 56.7 454 44.6 451.2 41.6 445.2 36 443.4 33.7 439 27.2 437.4 25.4 435.4 23.7 434.2 25.9 433.4 28.6 431.8 41.9 430 51 427.8 58.5 425 65.3 422.4 69.4 418 73.9 411 79.8 408.6 81.3 406.2 82.4 403 83.3 393.4 85.3 390.4 85.8 385.8 85.6 381 84.4 375.4 81.8 367.2 76.9 359.6 74.5 356.4 72.8 352.4 69.6 340.4 58Z" fill="#8c8c8c"/>
<path d="M515 77.5 522 76.5 527 74 532.7 66.6 536.4 57.4 538.7 48.3 540.5 39.5 543 23 544 18.2 545 17.9 550.5 18.9 554.6 21.8 566.5 29.2 577.5 41.8 595 54.4 595 60.6 577.5 49.4 566.5 36.4 558 28.6 553 25.8 552.3 26 551.5 39 545.1 57.4 540 66.6 533 73.5 526 77.5 515 79.5Z" fill="#8c8c8c" stroke="#8c8c8c" stroke-width="0.5" stroke-linejoin="round"/>
<path d="M340.4 52.5 352 65.4 356.5 69.5 359.8 71.5 367.3 74.6 375 79.9 379 82.1 384.3 83.8 387 84.2 389.4 84.3 393.6 83.8 404.7 81.3 407.7 79.9 410.3 77.7 413.7 73.8 418.8 68.6 420.3 66.4 421.7 63.8 424.6 56.5 426.9 48.1 428.3 40.6 429.6 29.5 430.2 26.4 430.8 24.5 431.7 23 432.6 21.9 433.4 21.6 435.7 22.9 437.8 24.9 445 34.9 451.1 40.6 453.5 43.2 463.6 56.3 466.1 58.8 469.1 61 473.6 63.7 482.9 68.1 485.1 69.7 490.5 74.8 492.9 76.3 495.4 77.4 498 78.2 501 78.5 507.5 78.2 514 78.6 517.9 78.4 520.8 77.8 523.8 76.7 526.4 75.4 529.1 73.6 531.3 71.7 533.4 69.6 535.3 67 537.1 64.1 540.4 57.2 543.2 49.2 544.9 42.7 546.9 33 548.1 23.3 548.9 21.5 550.3 20.5 557.3 24.9 564.2 30.6 569.9 36.5 579 47.1 583.2 51.2 585.8 53.1 588.8 54.9 591.8 56.4 595 57.5" fill="none" stroke="#151515" stroke-width="1.15" stroke-linejoin="round"/>
<path d="M375.6 73.3V90.4M373.9 73.3h3.4M373.9 90.4h3.4" stroke="#333" stroke-width="0.85" fill="none"/>
<rect x="374.4" y="78.8" width="2.4" height="2.4" fill="#000"/>
<rect x="374.4" y="80.5" width="2.4" height="2.4" fill="#000"/>
<rect x="374.4" y="85" width="2.4" height="2.4" fill="#000"/>
<path d="M380.2 68.3V94M378.5 68.3h3.4M378.5 94h3.4" stroke="#333" stroke-width="0.85" fill="none"/>
<rect x="379" y="71.3" width="2.4" height="2.4" fill="#000"/>
<rect x="379" y="80.8" width="2.4" height="2.4" fill="#000"/>
<rect x="379" y="82.3" width="2.4" height="2.4" fill="#000"/>
<rect x="379" y="87.1" width="2.4" height="2.4" fill="#000"/>
<path d="M398.6 68.3V94M396.9 68.3h3.4M396.9 94h3.4" stroke="#333" stroke-width="0.85" fill="none"/>
<rect x="397.4" y="75.9" width="2.4" height="2.4" fill="#000"/>
<rect x="397.4" y="88" width="2.4" height="2.4" fill="#000"/>
<path d="M405.2 67.3V92.1M403.5 67.3h3.4M403.5 92.1h3.4" stroke="#333" stroke-width="0.85" fill="none"/>
<rect x="404" y="78.8" width="2.4" height="2.4" fill="#000"/>
<rect x="404" y="80.8" width="2.4" height="2.4" fill="#000"/>
<path d="M423.6 55.3V66.2M421.9 55.3h3.4M421.9 66.2h3.4" stroke="#333" stroke-width="0.85" fill="none"/>
<rect x="422.4" y="56.1" width="2.4" height="2.4" fill="#000"/>
<rect x="422.4" y="63" width="2.4" height="2.4" fill="#000"/>
<path d="M464.6 56.4V58M462.9 56.4h3.4M462.9 58h3.4" stroke="#333" stroke-width="0.85" fill="none"/>
<rect x="463.4" y="56" width="2.4" height="2.4" fill="#000"/>
<path d="M481 65.2V67.5M479.3 65.2h3.4M479.3 67.5h3.4" stroke="#333" stroke-width="0.85" fill="none"/>
<rect x="479.8" y="65" width="2.4" height="2.4" fill="#000"/>
<path d="M487 65.5V77.5M485.3 65.5h3.4M485.3 77.5h3.4" stroke="#333" stroke-width="0.85" fill="none"/>
<rect x="485.8" y="67.8" width="2.4" height="2.4" fill="#000"/>
<rect x="485.8" y="69.8" width="2.4" height="2.4" fill="#000"/>
<rect x="485.8" y="71.8" width="2.4" height="2.4" fill="#000"/>
<path d="M490 73.5V75.5M488.3 73.5h3.4M488.3 75.5h3.4" stroke="#333" stroke-width="0.85" fill="none"/>
<rect x="488.8" y="73.3" width="2.4" height="2.4" fill="#000"/>
<path d="M513 77.4V79.4M511.3 77.4h3.4M511.3 79.4h3.4" stroke="#333" stroke-width="0.85" fill="none"/>
<rect x="511.8" y="77.2" width="2.4" height="2.4" fill="#000"/>
</g>
<path d="M341.3 94.4v-1.1M341.3 10v1.1M343.7 94.4v-1.1M343.7 10v1.1M346 94.4v-1.1M346 10v1.1M348.3 94.4v-1.1M348.3 10v1.1M350.7 94.4v-1.1M350.7 10v1.1M353 94.4v-1.1M353 10v1.1M355.3 94.4v-1.1M355.3 10v1.1M357.7 94.4v-1.1M357.7 10v1.1M360 94.4v-1.1M360 10v1.1M362.3 94.4v-1.1M362.3 10v1.1M364.7 94.4v-1.1M364.7 10v1.1M367 94.4v-2.4M367 10v2.4M369.3 94.4v-1.1M369.3 10v1.1M371.7 94.4v-1.1M371.7 10v1.1M374 94.4v-1.1M374 10v1.1M376.3 94.4v-1.1M376.3 10v1.1M378.7 94.4v-1.1M378.7 10v1.1M381 94.4v-1.1M381 10v1.1M383.3 94.4v-1.1M383.3 10v1.1M385.7 94.4v-1.1M385.7 10v1.1M388 94.4v-1.1M388 10v1.1M390.3 94.4v-1.1M390.3 10v1.1M392.7 94.4v-1.1M392.7 10v1.1M395 94.4v-2.4M395 10v2.4M397.3 94.4v-1.1M397.3 10v1.1M399.7 94.4v-1.1M399.7 10v1.1M402 94.4v-1.1M402 10v1.1M404.3 94.4v-1.1M404.3 10v1.1M406.7 94.4v-1.1M406.7 10v1.1M409 94.4v-1.1M409 10v1.1M411.3 94.4v-1.1M411.3 10v1.1M413.7 94.4v-1.1M413.7 10v1.1M416 94.4v-1.1M416 10v1.1M418.3 94.4v-1.1M418.3 10v1.1M420.7 94.4v-1.1M420.7 10v1.1M423 94.4v-2.4M423 10v2.4M425.3 94.4v-1.1M425.3 10v1.1M427.7 94.4v-1.1M427.7 10v1.1M430 94.4v-1.1M430 10v1.1M432.3 94.4v-1.1M432.3 10v1.1M434.7 94.4v-1.1M434.7 10v1.1M437 94.4v-1.1M437 10v1.1M439.3 94.4v-1.1M439.3 10v1.1M441.7 94.4v-1.1M441.7 10v1.1M444 94.4v-1.1M444 10v1.1M446.3 94.4v-1.1M446.3 10v1.1M448.7 94.4v-1.1M448.7 10v1.1M451 94.4v-2.4M451 10v2.4M453.3 94.4v-1.1M453.3 10v1.1M455.7 94.4v-1.1M455.7 10v1.1M458 94.4v-1.1M458 10v1.1M460.3 94.4v-1.1M460.3 10v1.1M462.7 94.4v-1.1M462.7 10v1.1M465 94.4v-1.1M465 10v1.1M467.3 94.4v-1.1M467.3 10v1.1M469.7 94.4v-1.1M469.7 10v1.1M472 94.4v-1.1M472 10v1.1M474.3 94.4v-1.1M474.3 10v1.1M476.7 94.4v-1.1M476.7 10v1.1M479 94.4v-2.4M479 10v2.4M481.3 94.4v-1.1M481.3 10v1.1M483.7 94.4v-1.1M483.7 10v1.1M486 94.4v-1.1M486 10v1.1M488.3 94.4v-1.1M488.3 10v1.1M490.7 94.4v-1.1M490.7 10v1.1M493 94.4v-1.1M493 10v1.1M495.3 94.4v-1.1M495.3 10v1.1M497.7 94.4v-1.1M497.7 10v1.1M500 94.4v-1.1M500 10v1.1M502.3 94.4v-1.1M502.3 10v1.1M504.7 94.4v-1.1M504.7 10v1.1M507 94.4v-2.4M507 10v2.4M509.3 94.4v-1.1M509.3 10v1.1M511.7 94.4v-1.1M511.7 10v1.1M514 94.4v-1.1M514 10v1.1M516.3 94.4v-1.1M516.3 10v1.1M518.7 94.4v-1.1M518.7 10v1.1M521 94.4v-1.1M521 10v1.1M523.3 94.4v-1.1M523.3 10v1.1M525.7 94.4v-1.1M525.7 10v1.1M528 94.4v-1.1M528 10v1.1M530.3 94.4v-1.1M530.3 10v1.1M532.7 94.4v-1.1M532.7 10v1.1M535 94.4v-2.4M535 10v2.4M537.3 94.4v-1.1M537.3 10v1.1M539.7 94.4v-1.1M539.7 10v1.1M542 94.4v-1.1M542 10v1.1M544.3 94.4v-1.1M544.3 10v1.1M546.7 94.4v-1.1M546.7 10v1.1M549 94.4v-1.1M549 10v1.1M551.3 94.4v-1.1M551.3 10v1.1M553.7 94.4v-1.1M553.7 10v1.1M556 94.4v-1.1M556 10v1.1M558.3 94.4v-1.1M558.3 10v1.1M560.7 94.4v-1.1M560.7 10v1.1M563 94.4v-2.4M563 10v2.4M565.3 94.4v-1.1M565.3 10v1.1M567.7 94.4v-1.1M567.7 10v1.1M570 94.4v-1.1M570 10v1.1M572.3 94.4v-1.1M572.3 10v1.1M574.7 94.4v-1.1M574.7 10v1.1M577 94.4v-1.1M577 10v1.1M579.3 94.4v-1.1M579.3 10v1.1M581.7 94.4v-1.1M581.7 10v1.1M584 94.4v-1.1M584 10v1.1M586.3 94.4v-1.1M586.3 10v1.1M588.7 94.4v-1.1M588.7 10v1.1M591 94.4v-2.4M591 10v2.4M593.3 94.4v-1.1M593.3 10v1.1M340.4 93.5h1.1M595 93.5h-1.1M340.4 90.9h1.1M595 90.9h-1.1M340.4 88.3h1.1M595 88.3h-1.1M340.4 85.7h1.1M595 85.7h-1.1M340.4 83.1h2.4M595 83.1h-2.4M340.4 80.5h1.1M595 80.5h-1.1M340.4 77.9h1.1M595 77.9h-1.1M340.4 75.3h1.1M595 75.3h-1.1M340.4 72.7h1.1M595 72.7h-1.1M340.4 70.1h2.4M595 70.1h-2.4M340.4 67.5h1.1M595 67.5h-1.1M340.4 64.9h1.1M595 64.9h-1.1M340.4 62.4h1.1M595 62.4h-1.1M340.4 59.8h1.1M595 59.8h-1.1M340.4 57.2h2.4M595 57.2h-2.4M340.4 54.6h1.1M595 54.6h-1.1M340.4 52h1.1M595 52h-1.1M340.4 49.4h1.1M595 49.4h-1.1M340.4 46.8h1.1M595 46.8h-1.1M340.4 44.2h2.4M595 44.2h-2.4M340.4 41.6h1.1M595 41.6h-1.1M340.4 39h1.1M595 39h-1.1M340.4 36.4h1.1M595 36.4h-1.1M340.4 33.8h1.1M595 33.8h-1.1M340.4 31.2h2.4M595 31.2h-2.4M340.4 28.6h1.1M595 28.6h-1.1M340.4 26h1.1M595 26h-1.1M340.4 23.4h1.1M595 23.4h-1.1M340.4 20.8h1.1M595 20.8h-1.1M340.4 18.2h2.4M595 18.2h-2.4M340.4 15.6h1.1M595 15.6h-1.1M340.4 13h1.1M595 13h-1.1M340.4 10.4h1.1M595 10.4h-1.1" stroke="#222" stroke-width="0.6" fill="none"/>
<rect x="340.4" y="10" width="254.6" height="84.4" fill="none" stroke="#1a1a1a" stroke-width="0.8"/>
<text transform="translate(367 102.3) scale(1.07 1)" font-size="7.3" text-anchor="middle">2006</text>
<text transform="translate(395 102.3) scale(1.07 1)" font-size="7.3" text-anchor="middle">2007</text>
<text transform="translate(423 102.3) scale(1.07 1)" font-size="7.3" text-anchor="middle">2008</text>
<text transform="translate(451 102.3) scale(1.07 1)" font-size="7.3" text-anchor="middle">2009</text>
<text transform="translate(479 102.3) scale(1.07 1)" font-size="7.3" text-anchor="middle">2010</text>
<text transform="translate(507 102.3) scale(1.07 1)" font-size="7.3" text-anchor="middle">2011</text>
<text transform="translate(535 102.3) scale(1.07 1)" font-size="7.3" text-anchor="middle">2012</text>
<text transform="translate(563 102.3) scale(1.07 1)" font-size="7.3" text-anchor="middle">2013</text>
<text transform="translate(591 102.3) scale(1.07 1)" font-size="7.3" text-anchor="middle">2014</text>
<text transform="translate(337 20.7) scale(1.15 1)" font-size="6.5" text-anchor="end">1x10<tspan font-size="4.0" dy="-2.9" dx="-0.2">4</tspan></text>
<text transform="translate(338.9 33.6) scale(1.2 1)" font-size="7.0" text-anchor="end">0</text>
<text transform="translate(337 46.7) scale(1.15 1)" font-size="6.5" text-anchor="end">-1x10<tspan font-size="4.0" dy="-2.9" dx="-0.2">4</tspan></text>
<text transform="translate(337 59.7) scale(1.15 1)" font-size="6.5" text-anchor="end">-2x10<tspan font-size="4.0" dy="-2.9" dx="-0.2">4</tspan></text>
<text transform="translate(337 72.6) scale(1.15 1)" font-size="6.5" text-anchor="end">-3x10<tspan font-size="4.0" dy="-2.9" dx="-0.2">4</tspan></text>
<text transform="translate(337 85.6) scale(1.15 1)" font-size="6.5" text-anchor="end">-4x10<tspan font-size="4.0" dy="-2.9" dx="-0.2">4</tspan></text>
<text transform="translate(312 52.2) rotate(-90) scale(1 0.78)" font-size="9.3" text-anchor="middle">Δλ (km)</text>
<text transform="translate(467.7 7.6) scale(1.07 1)" font-size="9.4" text-anchor="middle">hEaV</text>
<g clip-path="url(#c3)">
<path d="M340.4 137.5 351.6 136.4 364.4 134.8 408.8 128.5 419.2 126.8 421.8 126.6 424 126.9 428 126.3 432 126.7 435 127.9 436.8 129.4 439.4 132.9 442.8 136.6 444.8 137.7 447.2 138.2 465.8 137.6 484.2 135.6 500.4 133.2 528 128.4 531.4 126.8 534 126.5 553.2 126.6 556.4 127.1 558.2 127.8 560 129.1 561.4 130.6 563.6 133.6 565.2 134.9 568 136.3 572 137.5 582 137.5 589.4 136.9 595 136.8 595 138.8 589.4 138.9 582 139.5 576.8 140.6 558.2 140.9 553.2 140.7 547.4 139.7 542.8 138 540.6 136.3 538.4 133.3 537 131.8 534 132.4 528 130.4 496.6 135.8 478 138.4 463 139.8 448.4 140.4 442.8 140.4 439 139.9 435.6 138.7 432.4 136.4 429 132.1 427.4 130.7 424.6 129.4 421.4 129 418.6 129.3 408.8 131 363.2 137.8 351 139.4 340.4 140.5Z" fill="#c6c6c6"/>
<path d="M340.4 138 351 137 363 135.4 408.8 128.9 418.6 127.2 421.6 126.9 425 127.5 428 127 430.6 127.8 433 129.4 436.2 133.5 438.4 135.4 442 137.8 443.6 138.3 445.4 138.5 464 137.9 480.6 136.3 492.8 134.6 508.8 131.9 530 128.2 534 127.1 537 127 544.2 127 547.4 127.7 549 128.6 550.4 129.7 553.4 133.6 555.2 135.2 558 136.5 564.2 138.4 567 138.7 570.4 138.7 588 137.2 595 137 595 138.6 588.2 138.8 568.6 140.4 560 140.5 555.6 140.2 550.2 139.1 546 137.4 544 135.7 541.8 132.7 540.6 131.5 539 130.3 537.4 129.6 530 129.8 495.8 135.7 476.2 138.4 462 139.6 442.4 140.2 438.8 139.7 435.4 138.4 432.4 136.2 429 131.9 427.2 130.4 424.6 129.1 421.4 128.8 418.6 129 408.8 130.7 363.2 137.4 351 138.9 340.4 140Z" fill="#8c8c8c"/>
<path d="M340.4 139 351.2 137.9 363.2 136.4 408.8 129.8 418.6 128.1 421.5 127.8 424.7 128.3 427.4 129.5 429 130.9 432.4 135.2 435.5 137.4 438.7 138.7 443 139.3 462.5 138.8 478.4 137.4 494.3 135.1 533.3 128.5 538.2 128 541.2 128.2 543.7 129.1 546.1 131 549 134.8 550.8 136.2 554.3 137.8 558.9 138.9 563.7 139.5 569.4 139.5 588.2 138 595 137.8" fill="none" stroke="#151515" stroke-width="1.3" stroke-linejoin="round"/>
<path d="M375.4 123.8V145M373.7 123.8h3.4M373.7 145h3.4" stroke="#333" stroke-width="0.85" fill="none"/>
<rect x="374.2" y="131.5" width="2.4" height="2.4" fill="#000"/>
<rect x="374.2" y="137.7" width="2.4" height="2.4" fill="#000"/>
<path d="M380.3 119.7V148.5M378.6 119.7h3.4M378.6 148.5h3.4" stroke="#333" stroke-width="0.85" fill="none"/>
<rect x="379.1" y="123.3" width="2.4" height="2.4" fill="#000"/>
<rect x="379.1" y="132.2" width="2.4" height="2.4" fill="#000"/>
<rect x="379.1" y="138.3" width="2.4" height="2.4" fill="#000"/>
<path d="M398.4 112.8V140.2M396.7 112.8h3.4M396.7 140.2h3.4" stroke="#333" stroke-width="0.85" fill="none"/>
<rect x="397.2" y="120.5" width="2.4" height="2.4" fill="#000"/>
<rect x="397.2" y="130.1" width="2.4" height="2.4" fill="#000"/>
<path d="M404.9 119V144.4M403.2 119h3.4M403.2 144.4h3.4" stroke="#333" stroke-width="0.85" fill="none"/>
<rect x="403.7" y="123.3" width="2.4" height="2.4" fill="#000"/>
<rect x="403.7" y="130.8" width="2.4" height="2.4" fill="#000"/>
<path d="M423.7 124.2V134.7M422 124.2h3.4M422 134.7h3.4" stroke="#333" stroke-width="0.85" fill="none"/>
<rect x="422.5" y="127.4" width="2.4" height="2.4" fill="#000"/>
<path d="M464.9 137.6V139.4M463.2 137.6h3.4M463.2 139.4h3.4" stroke="#333" stroke-width="0.85" fill="none"/>
<rect x="463.7" y="137.3" width="2.4" height="2.4" fill="#000"/>
<path d="M480.6 136.2V138M478.9 136.2h3.4M478.9 138h3.4" stroke="#333" stroke-width="0.85" fill="none"/>
<rect x="479.4" y="135.9" width="2.4" height="2.4" fill="#000"/>
<path d="M487.5 132.7V140.9M485.8 132.7h3.4M485.8 140.9h3.4" stroke="#333" stroke-width="0.85" fill="none"/>
<rect x="486.3" y="133.5" width="2.4" height="2.4" fill="#000"/>
<rect x="486.3" y="134.9" width="2.4" height="2.4" fill="#000"/>
<path d="M490.3 134.5V136.3M488.6 134.5h3.4M488.6 136.3h3.4" stroke="#333" stroke-width="0.85" fill="none"/>
<rect x="489.1" y="134.2" width="2.4" height="2.4" fill="#000"/>
<path d="M512.9 131V133M511.2 131h3.4M511.2 133h3.4" stroke="#333" stroke-width="0.85" fill="none"/>
<rect x="511.7" y="130.8" width="2.4" height="2.4" fill="#000"/>
</g>
<path d="M341.3 196.2v-1.1M341.3 111.4v1.1M343.7 196.2v-1.1M343.7 111.4v1.1M346 196.2v-1.1M346 111.4v1.1M348.3 196.2v-1.1M348.3 111.4v1.1M350.7 196.2v-1.1M350.7 111.4v1.1M353 196.2v-1.1M353 111.4v1.1M355.3 196.2v-1.1M355.3 111.4v1.1M357.7 196.2v-1.1M357.7 111.4v1.1M360 196.2v-1.1M360 111.4v1.1M362.3 196.2v-1.1M362.3 111.4v1.1M364.7 196.2v-1.1M364.7 111.4v1.1M367 196.2v-2.4M367 111.4v2.4M369.3 196.2v-1.1M369.3 111.4v1.1M371.7 196.2v-1.1M371.7 111.4v1.1M374 196.2v-1.1M374 111.4v1.1M376.3 196.2v-1.1M376.3 111.4v1.1M378.7 196.2v-1.1M378.7 111.4v1.1M381 196.2v-1.1M381 111.4v1.1M383.3 196.2v-1.1M383.3 111.4v1.1M385.7 196.2v-1.1M385.7 111.4v1.1M388 196.2v-1.1M388 111.4v1.1M390.3 196.2v-1.1M390.3 111.4v1.1M392.7 196.2v-1.1M392.7 111.4v1.1M395 196.2v-2.4M395 111.4v2.4M397.3 196.2v-1.1M397.3 111.4v1.1M399.7 196.2v-1.1M399.7 111.4v1.1M402 196.2v-1.1M402 111.4v1.1M404.3 196.2v-1.1M404.3 111.4v1.1M406.7 196.2v-1.1M406.7 111.4v1.1M409 196.2v-1.1M409 111.4v1.1M411.3 196.2v-1.1M411.3 111.4v1.1M413.7 196.2v-1.1M413.7 111.4v1.1M416 196.2v-1.1M416 111.4v1.1M418.3 196.2v-1.1M418.3 111.4v1.1M420.7 196.2v-1.1M420.7 111.4v1.1M423 196.2v-2.4M423 111.4v2.4M425.3 196.2v-1.1M425.3 111.4v1.1M427.7 196.2v-1.1M427.7 111.4v1.1M430 196.2v-1.1M430 111.4v1.1M432.3 196.2v-1.1M432.3 111.4v1.1M434.7 196.2v-1.1M434.7 111.4v1.1M437 196.2v-1.1M437 111.4v1.1M439.3 196.2v-1.1M439.3 111.4v1.1M441.7 196.2v-1.1M441.7 111.4v1.1M444 196.2v-1.1M444 111.4v1.1M446.3 196.2v-1.1M446.3 111.4v1.1M448.7 196.2v-1.1M448.7 111.4v1.1M451 196.2v-2.4M451 111.4v2.4M453.3 196.2v-1.1M453.3 111.4v1.1M455.7 196.2v-1.1M455.7 111.4v1.1M458 196.2v-1.1M458 111.4v1.1M460.3 196.2v-1.1M460.3 111.4v1.1M462.7 196.2v-1.1M462.7 111.4v1.1M465 196.2v-1.1M465 111.4v1.1M467.3 196.2v-1.1M467.3 111.4v1.1M469.7 196.2v-1.1M469.7 111.4v1.1M472 196.2v-1.1M472 111.4v1.1M474.3 196.2v-1.1M474.3 111.4v1.1M476.7 196.2v-1.1M476.7 111.4v1.1M479 196.2v-2.4M479 111.4v2.4M481.3 196.2v-1.1M481.3 111.4v1.1M483.7 196.2v-1.1M483.7 111.4v1.1M486 196.2v-1.1M486 111.4v1.1M488.3 196.2v-1.1M488.3 111.4v1.1M490.7 196.2v-1.1M490.7 111.4v1.1M493 196.2v-1.1M493 111.4v1.1M495.3 196.2v-1.1M495.3 111.4v1.1M497.7 196.2v-1.1M497.7 111.4v1.1M500 196.2v-1.1M500 111.4v1.1M502.3 196.2v-1.1M502.3 111.4v1.1M504.7 196.2v-1.1M504.7 111.4v1.1M507 196.2v-2.4M507 111.4v2.4M509.3 196.2v-1.1M509.3 111.4v1.1M511.7 196.2v-1.1M511.7 111.4v1.1M514 196.2v-1.1M514 111.4v1.1M516.3 196.2v-1.1M516.3 111.4v1.1M518.7 196.2v-1.1M518.7 111.4v1.1M521 196.2v-1.1M521 111.4v1.1M523.3 196.2v-1.1M523.3 111.4v1.1M525.7 196.2v-1.1M525.7 111.4v1.1M528 196.2v-1.1M528 111.4v1.1M530.3 196.2v-1.1M530.3 111.4v1.1M532.7 196.2v-1.1M532.7 111.4v1.1M535 196.2v-2.4M535 111.4v2.4M537.3 196.2v-1.1M537.3 111.4v1.1M539.7 196.2v-1.1M539.7 111.4v1.1M542 196.2v-1.1M542 111.4v1.1M544.3 196.2v-1.1M544.3 111.4v1.1M546.7 196.2v-1.1M546.7 111.4v1.1M549 196.2v-1.1M549 111.4v1.1M551.3 196.2v-1.1M551.3 111.4v1.1M553.7 196.2v-1.1M553.7 111.4v1.1M556 196.2v-1.1M556 111.4v1.1M558.3 196.2v-1.1M558.3 111.4v1.1M560.7 196.2v-1.1M560.7 111.4v1.1M563 196.2v-2.4M563 111.4v2.4M565.3 196.2v-1.1M565.3 111.4v1.1M567.7 196.2v-1.1M567.7 111.4v1.1M570 196.2v-1.1M570 111.4v1.1M572.3 196.2v-1.1M572.3 111.4v1.1M574.7 196.2v-1.1M574.7 111.4v1.1M577 196.2v-1.1M577 111.4v1.1M579.3 196.2v-1.1M579.3 111.4v1.1M581.7 196.2v-1.1M581.7 111.4v1.1M584 196.2v-1.1M584 111.4v1.1M586.3 196.2v-1.1M586.3 111.4v1.1M588.7 196.2v-1.1M588.7 111.4v1.1M591 196.2v-2.4M591 111.4v2.4M593.3 196.2v-1.1M593.3 111.4v1.1M340.4 195.1h1.1M595 195.1h-1.1M340.4 192.5h1.1M595 192.5h-1.1M340.4 189.9h1.1M595 189.9h-1.1M340.4 187.3h1.1M595 187.3h-1.1M340.4 184.7h2.4M595 184.7h-2.4M340.4 182.1h1.1M595 182.1h-1.1M340.4 179.5h1.1M595 179.5h-1.1M340.4 176.9h1.1M595 176.9h-1.1M340.4 174.3h1.1M595 174.3h-1.1M340.4 171.6h2.4M595 171.6h-2.4M340.4 169h1.1M595 169h-1.1M340.4 166.4h1.1M595 166.4h-1.1M340.4 163.8h1.1M595 163.8h-1.1M340.4 161.2h1.1M595 161.2h-1.1M340.4 158.6h2.4M595 158.6h-2.4M340.4 156h1.1M595 156h-1.1M340.4 153.4h1.1M595 153.4h-1.1M340.4 150.8h1.1M595 150.8h-1.1M340.4 148.2h1.1M595 148.2h-1.1M340.4 145.5h2.4M595 145.5h-2.4M340.4 142.9h1.1M595 142.9h-1.1M340.4 140.3h1.1M595 140.3h-1.1M340.4 137.7h1.1M595 137.7h-1.1M340.4 135.1h1.1M595 135.1h-1.1M340.4 132.5h2.4M595 132.5h-2.4M340.4 129.9h1.1M595 129.9h-1.1M340.4 127.3h1.1M595 127.3h-1.1M340.4 124.7h1.1M595 124.7h-1.1M340.4 122.1h1.1M595 122.1h-1.1M340.4 119.4h2.4M595 119.4h-2.4M340.4 116.8h1.1M595 116.8h-1.1M340.4 114.2h1.1M595 114.2h-1.1" stroke="#222" stroke-width="0.6" fill="none"/>
<rect x="340.4" y="111.4" width="254.6" height="84.8" fill="none" stroke="#1a1a1a" stroke-width="0.8"/>
<text transform="translate(367 204.1) scale(1.07 1)" font-size="7.3" text-anchor="middle">2006</text>
<text transform="translate(395 204.1) scale(1.07 1)" font-size="7.3" text-anchor="middle">2007</text>
<text transform="translate(423 204.1) scale(1.07 1)" font-size="7.3" text-anchor="middle">2008</text>
<text transform="translate(451 204.1) scale(1.07 1)" font-size="7.3" text-anchor="middle">2009</text>
<text transform="translate(479 204.1) scale(1.07 1)" font-size="7.3" text-anchor="middle">2010</text>
<text transform="translate(507 204.1) scale(1.07 1)" font-size="7.3" text-anchor="middle">2011</text>
<text transform="translate(535 204.1) scale(1.07 1)" font-size="7.3" text-anchor="middle">2012</text>
<text transform="translate(563 204.1) scale(1.07 1)" font-size="7.3" text-anchor="middle">2013</text>
<text transform="translate(591 204.1) scale(1.07 1)" font-size="7.3" text-anchor="middle">2014</text>
<text transform="translate(337 122) scale(1.15 1)" font-size="6.5" text-anchor="end">1x10<tspan font-size="4.0" dy="-2.9" dx="-0.2">4</tspan></text>
<text transform="translate(338.9 134.9) scale(1.2 1)" font-size="7.0" text-anchor="end">0</text>
<text transform="translate(337 148.1) scale(1.15 1)" font-size="6.5" text-anchor="end">-1x10<tspan font-size="4.0" dy="-2.9" dx="-0.2">4</tspan></text>
<text transform="translate(337 161.1) scale(1.15 1)" font-size="6.5" text-anchor="end">-2x10<tspan font-size="4.0" dy="-2.9" dx="-0.2">4</tspan></text>
<text transform="translate(337 174.2) scale(1.15 1)" font-size="6.5" text-anchor="end">-3x10<tspan font-size="4.0" dy="-2.9" dx="-0.2">4</tspan></text>
<text transform="translate(337 187.2) scale(1.15 1)" font-size="6.5" text-anchor="end">-4x10<tspan font-size="4.0" dy="-2.9" dx="-0.2">4</tspan></text>
<text transform="translate(312 153.8) rotate(-90) scale(1 0.78)" font-size="9.3" text-anchor="middle">Δϕ (km)</text>
<text x="467.7" y="212" font-size="8.8" text-anchor="middle">UTC Date</text>
<g clip-path="url(#c4)">
<path d="M183.3 245.2 187.1 247.9 189.3 249.2 191.1 249.9 195.9 251.1 198.9 252.6 202.3 255.4 207.9 262 210.7 264.6 213.1 265.9 219.3 267.9 222.1 269.1 225.7 271.6 232.9 278.2 235.3 279.4 237.5 279.7 243.3 279.1 249.9 279.4 251.5 278.8 252.9 277.6 255.1 274 256.5 269.9 257.3 265.5 258.7 252.6 259.5 248 260.3 245.6 261.7 243.7 263.1 243.1 265.5 242.9 269.5 243.4 272.1 244.4 274.7 246.3 277.5 248.8 283.5 255.1 286.9 257.9 290.5 259.9 296.3 261.9 298.1 262.9 300.1 265 305.9 272.9 307.7 274.7 309.7 276.3 312.9 277.9 318.1 278.5 321.1 279.5 323.7 281.1 328.5 285.3 330.7 286.9 333.7 288.3 336.5 288.9 338.5 288.4 345.3 285 347.7 283.1 349.7 280.5 351.7 276.2 353.5 270.1 354.5 263.2 355.5 250.8 356.1 248.4 356.9 247.1 358.3 246.2 359.9 245.9 362.7 246 364.9 246.7 367.1 247.7 369.7 249.3 372.1 251.2 374.7 253.9 380.3 261.2 383.7 265 387.7 268.4 394.3 272.1 396.9 274 399.3 276.5 404.5 283.3 406.1 284.9 407.9 286.3 410.7 287.5 420.1 289.8 427.7 293.7 430.7 294.7 433.1 294.9 435.1 294.6 436.9 293.7 438.3 292.4 438.3 297.7 437.1 298.9 435.7 299.6 434.1 300.1 432.5 300.2 430.5 300 428.3 299.2 422.1 295.9 419.7 294.9 411.1 292.7 408.5 291.8 406.7 290.6 404.7 288.7 399.3 281.6 396.9 279.1 394.3 277.2 387.7 273.4 383.9 270.3 381.1 267.2 374.7 259.2 371.9 256.4 369.3 254.4 366.5 252.8 363.9 251.6 361.5 251 360.1 251 358.7 251.5 357.7 252.5 357.1 253.7 356.5 257 355.7 267.7 354.9 273.9 353.5 279.5 351.5 284 349.3 287 346.5 289.3 338.5 293.4 336.5 293.9 333.7 293.3 330.7 291.9 328.5 290.3 323.7 286.1 321.1 284.5 318.1 283.5 312.9 282.9 309.7 281.3 307.7 279.7 305.9 277.9 300.1 270 298.1 267.9 296.3 266.9 290.7 265 287.1 263 283.5 260.1 275.1 251.6 272.5 250.2 269.9 249.2 266.9 248.7 265.5 248.9 263.7 250.1 262.5 251.8 261.7 254.4 260.9 258.7 259.5 270.8 258.7 275.3 257.1 279.9 254.9 283.3 253.3 284.7 251.7 285.3 244.7 285.9 237.3 287.3 235.1 287 232.9 285.9 225.7 279.7 222.1 277.3 219.1 276.1 212.7 274.4 210.5 273.3 207.9 271.1 202.7 265.1 199.9 262.5 196.7 260.6 192.1 259.3 190.1 258.3 187.5 256.4 183.3 252.6Z" fill="#c2c2c2"/>
<path d="M183.3 246.1 187.1 249 189.5 250.5 191.5 251.4 196.3 252.7 199.7 254.6 202.9 257.5 208.5 264.3 211.3 266.6 213.5 267.7 219.5 269.6 222.1 270.8 225.7 273.2 232.9 279.6 235.3 280.8 237.5 281 243.9 280.2 251.5 280.2 253.3 279.6 254.9 278.2 257.1 274.8 258.7 270.2 259.5 265.7 260.9 253.6 261.7 249.3 262.5 246.8 263.7 245.1 265.3 244.1 267.3 243.8 269.9 244.2 272.5 245.3 275.1 247.1 283.5 255.7 286.9 258.5 290.5 260.5 296.3 262.5 298.1 263.6 300.1 265.7 305.9 273.6 307.7 275.4 309.7 277 312.9 278.6 318.1 279.2 321.1 280.2 323.7 281.8 328.5 286 330.7 287.6 333.7 289 336.5 289.6 338.5 289.1 346.5 285 349.1 282.9 351.3 280 353.3 275.8 354.7 270.6 355.5 265.4 356.5 252.7 357.1 249.4 357.9 247.9 359.1 247 360.7 246.6 362.7 246.7 364.9 247.4 367.1 248.4 369.7 250 372.1 251.9 374.7 254.6 380.3 261.9 383.7 265.7 387.7 269.1 394.3 272.8 396.9 274.7 399.3 277.2 404.5 284 406.1 285.6 407.9 287 410.7 288.2 420.1 290.5 427.7 294.4 430.7 295.4 433.1 295.6 435.1 295.3 436.9 294.4 438.3 293.1 438.3 296.7 437.7 297.4 436.5 298.3 435.1 298.9 433.5 299.2 431.9 299.2 430.1 298.9 428.1 298.2 422.1 295 419.9 294 410.9 291.8 408.3 290.8 406.5 289.6 404.7 287.9 399.3 280.8 396.9 278.3 394.3 276.4 387.7 272.7 383.9 269.5 380.5 265.8 374.7 258.2 372.1 255.5 369.7 253.6 367.1 252 364.7 250.9 362.5 250.3 360.7 250.2 359.1 250.6 357.9 251.5 357.1 253 356.5 256.3 355.5 269 354.7 274.2 353.3 279.4 351.3 283.6 349.1 286.5 346.5 288.6 338.5 292.7 336.5 293.2 333.7 292.6 330.7 291.2 328.5 289.6 323.7 285.4 321.1 283.8 318.1 282.8 312.9 282.2 309.7 280.6 307.7 279 305.9 277.2 300.1 269.3 298.3 267.4 296.3 266.2 290.5 264.3 286.9 262.3 283.5 259.5 275.1 251.1 272.5 249.3 269.9 248.2 267.3 247.8 265.3 248.2 263.7 249.2 262.5 250.9 261.7 253.4 260.9 257.8 259.5 269.8 258.7 274.4 257.1 278.9 254.9 282.4 253.1 283.9 251.3 284.5 244.1 284.6 237.5 285.4 235.3 285.2 232.9 284 225.7 277.7 222.1 275.2 219.5 274.1 213.5 272.2 211.3 271.1 208.5 268.8 202.9 262 199.7 259.1 196.3 257.2 191.5 255.9 189.5 255.1 187.1 253.6 183.3 250.7Z" fill="#8c8c8c"/>
<path d="M183.3 248.4 187.1 251.3 189.6 252.8 191.5 253.6 196.3 255 199.7 256.9 202.9 259.8 208.6 266.7 211.3 268.9 213.6 270 219.5 271.8 222.3 273.1 225.8 275.5 233 281.8 235.3 283 237.4 283.2 244.1 282.4 251.3 282.4 253.2 281.7 254.9 280.3 257.1 276.8 258.7 272.3 259.5 268 260.8 256.4 261.7 251.3 262.4 249 263.6 247.3 265.3 246.1 267.3 245.8 269.8 246.2 272.5 247.3 275.2 249.2 283.4 257.5 286.9 260.4 290.5 262.4 296.3 264.4 298.2 265.5 300.2 267.6 305.8 275.3 307.7 277.2 309.6 278.7 311.2 279.7 313 280.4 318.1 281 321.1 282 323.7 283.7 328.6 287.9 330.9 289.5 333.9 290.9 336.5 291.4 338.6 290.9 346.5 286.8 349.2 284.6 351.4 281.7 353.4 277.4 354.8 271.9 355.6 266 356.6 253.8 357.1 251.2 357.9 249.8 359.1 248.8 360.6 248.4 362.7 248.5 365 249.2 367.2 250.3 369.9 251.9 372.2 253.7 374.7 256.4 380.4 263.9 383.8 267.6 387.7 270.9 394.3 274.6 396.8 276.4 399.2 278.9 404.4 285.8 406.2 287.5 407.9 288.8 410.7 290 417.2 291.4 420.2 292.3 427.6 296.2 430.7 297.2 433 297.4 435.1 297.1 436.9 296.2 438.4 294.8" fill="none" stroke="#151515" stroke-width="1.15" stroke-linejoin="round"/>
<path d="M213.5 266.2V283.3M211.8 266.2h3.4M211.8 283.3h3.4" stroke="#333" stroke-width="0.85" fill="none"/>
<rect x="212.3" y="271.3" width="2.4" height="2.4" fill="#000"/>
<rect x="212.3" y="273.3" width="2.4" height="2.4" fill="#000"/>
<rect x="212.3" y="275.3" width="2.4" height="2.4" fill="#000"/>
<path d="M217.6 259.3V290.9M215.9 259.3h3.4M215.9 290.9h3.4" stroke="#333" stroke-width="0.85" fill="none"/>
<rect x="216.4" y="265.6" width="2.4" height="2.4" fill="#000"/>
<rect x="216.4" y="269.8" width="2.4" height="2.4" fill="#000"/>
<rect x="216.4" y="276.6" width="2.4" height="2.4" fill="#000"/>
<path d="M221.7 264.8V286.1M220 264.8h3.4M220 286.1h3.4" stroke="#333" stroke-width="0.85" fill="none"/>
<rect x="220.5" y="271.1" width="2.4" height="2.4" fill="#000"/>
<rect x="220.5" y="273.9" width="2.4" height="2.4" fill="#000"/>
<path d="M235.6 282V296.4M233.9 282h3.4M233.9 296.4h3.4" stroke="#333" stroke-width="0.85" fill="none"/>
<rect x="234.4" y="287.6" width="2.4" height="2.4" fill="#000"/>
<path d="M266.9 237.4V248.4M265.2 237.4h3.4M265.2 248.4h3.4" stroke="#333" stroke-width="0.85" fill="none"/>
<rect x="265.7" y="244.4" width="2.4" height="2.4" fill="#000"/>
<path d="M296.9 257.9V279.1M295.2 257.9h3.4M295.2 279.1h3.4" stroke="#333" stroke-width="0.85" fill="none"/>
<rect x="295.7" y="262.8" width="2.4" height="2.4" fill="#000"/>
<rect x="295.7" y="268.3" width="2.4" height="2.4" fill="#000"/>
<path d="M337.8 283.3V296.3M336.1 283.3h3.4M336.1 296.3h3.4" stroke="#333" stroke-width="0.85" fill="none"/>
<rect x="336.6" y="286.3" width="2.4" height="2.4" fill="#000"/>
<rect x="336.6" y="288.3" width="2.4" height="2.4" fill="#000"/>
<rect x="336.6" y="290.3" width="2.4" height="2.4" fill="#000"/>
<rect x="336.6" y="292.3" width="2.4" height="2.4" fill="#000"/>
<path d="M338.6 288V292M336.9 288h3.4M336.9 292h3.4" stroke="#333" stroke-width="0.85" fill="none"/>
<rect x="337.4" y="287.3" width="2.4" height="2.4" fill="#000"/>
<rect x="337.4" y="289.3" width="2.4" height="2.4" fill="#000"/>
<path d="M344.6 284.6V290.1M342.9 284.6h3.4M342.9 290.1h3.4" stroke="#333" stroke-width="0.85" fill="none"/>
<rect x="343.4" y="284.6" width="2.4" height="2.4" fill="#000"/>
<rect x="343.4" y="286.3" width="2.4" height="2.4" fill="#000"/>
<rect x="343.4" y="287.8" width="2.4" height="2.4" fill="#000"/>
<path d="M346.6 284V289.5M344.9 284h3.4M344.9 289.5h3.4" stroke="#333" stroke-width="0.85" fill="none"/>
<rect x="345.4" y="284" width="2.4" height="2.4" fill="#000"/>
<rect x="345.4" y="285.8" width="2.4" height="2.4" fill="#000"/>
<rect x="345.4" y="287.3" width="2.4" height="2.4" fill="#000"/>
<path d="M362 247.5V249.8M360.3 247.5h3.4M360.3 249.8h3.4" stroke="#333" stroke-width="0.85" fill="none"/>
<rect x="360.8" y="247.4" width="2.4" height="2.4" fill="#000"/>
</g>
<path d="M185.3 319.2v-1.1M185.3 234.8v1.1M187.3 319.2v-1.1M187.3 234.8v1.1M189.4 319.2v-2.4M189.4 234.8v2.4M191.5 319.2v-1.1M191.5 234.8v1.1M193.5 319.2v-1.1M193.5 234.8v1.1M195.6 319.2v-1.1M195.6 234.8v1.1M197.6 319.2v-1.1M197.6 234.8v1.1M199.7 319.2v-1.1M199.7 234.8v1.1M201.7 319.2v-1.1M201.7 234.8v1.1M203.8 319.2v-1.1M203.8 234.8v1.1M205.8 319.2v-1.1M205.8 234.8v1.1M207.9 319.2v-1.1M207.9 234.8v1.1M209.9 319.2v-1.1M209.9 234.8v1.1M212 319.2v-1.1M212 234.8v1.1M214 319.2v-2.4M214 234.8v2.4M216.1 319.2v-1.1M216.1 234.8v1.1M218.1 319.2v-1.1M218.1 234.8v1.1M220.2 319.2v-1.1M220.2 234.8v1.1M222.2 319.2v-1.1M222.2 234.8v1.1M224.3 319.2v-1.1M224.3 234.8v1.1M226.3 319.2v-1.1M226.3 234.8v1.1M228.4 319.2v-1.1M228.4 234.8v1.1M230.4 319.2v-1.1M230.4 234.8v1.1M232.5 319.2v-1.1M232.5 234.8v1.1M234.5 319.2v-1.1M234.5 234.8v1.1M236.6 319.2v-1.1M236.6 234.8v1.1M238.6 319.2v-2.4M238.6 234.8v2.4M240.7 319.2v-1.1M240.7 234.8v1.1M242.7 319.2v-1.1M242.7 234.8v1.1M244.8 319.2v-1.1M244.8 234.8v1.1M246.8 319.2v-1.1M246.8 234.8v1.1M248.9 319.2v-1.1M248.9 234.8v1.1M251 319.2v-1.1M251 234.8v1.1M253 319.2v-1.1M253 234.8v1.1M255.1 319.2v-1.1M255.1 234.8v1.1M257.1 319.2v-1.1M257.1 234.8v1.1M259.2 319.2v-1.1M259.2 234.8v1.1M261.2 319.2v-1.1M261.2 234.8v1.1M263.3 319.2v-2.4M263.3 234.8v2.4M265.3 319.2v-1.1M265.3 234.8v1.1M267.4 319.2v-1.1M267.4 234.8v1.1M269.4 319.2v-1.1M269.4 234.8v1.1M271.5 319.2v-1.1M271.5 234.8v1.1M273.5 319.2v-1.1M273.5 234.8v1.1M275.6 319.2v-1.1M275.6 234.8v1.1M277.6 319.2v-1.1M277.6 234.8v1.1M279.7 319.2v-1.1M279.7 234.8v1.1M281.7 319.2v-1.1M281.7 234.8v1.1M283.8 319.2v-1.1M283.8 234.8v1.1M285.8 319.2v-1.1M285.8 234.8v1.1M287.9 319.2v-2.4M287.9 234.8v2.4M289.9 319.2v-1.1M289.9 234.8v1.1M292 319.2v-1.1M292 234.8v1.1M294 319.2v-1.1M294 234.8v1.1M296.1 319.2v-1.1M296.1 234.8v1.1M298.1 319.2v-1.1M298.1 234.8v1.1M300.2 319.2v-1.1M300.2 234.8v1.1M302.2 319.2v-1.1M302.2 234.8v1.1M304.3 319.2v-1.1M304.3 234.8v1.1M306.3 319.2v-1.1M306.3 234.8v1.1M308.4 319.2v-1.1M308.4 234.8v1.1M310.4 319.2v-1.1M310.4 234.8v1.1M312.5 319.2v-2.4M312.5 234.8v2.4M314.6 319.2v-1.1M314.6 234.8v1.1M316.6 319.2v-1.1M316.6 234.8v1.1M318.7 319.2v-1.1M318.7 234.8v1.1M320.7 319.2v-1.1M320.7 234.8v1.1M322.8 319.2v-1.1M322.8 234.8v1.1M324.8 319.2v-1.1M324.8 234.8v1.1M326.9 319.2v-1.1M326.9 234.8v1.1M328.9 319.2v-1.1M328.9 234.8v1.1M331 319.2v-1.1M331 234.8v1.1M333 319.2v-1.1M333 234.8v1.1M335.1 319.2v-1.1M335.1 234.8v1.1M337.1 319.2v-2.4M337.1 234.8v2.4M339.2 319.2v-1.1M339.2 234.8v1.1M341.2 319.2v-1.1M341.2 234.8v1.1M343.3 319.2v-1.1M343.3 234.8v1.1M345.3 319.2v-1.1M345.3 234.8v1.1M347.4 319.2v-1.1M347.4 234.8v1.1M349.4 319.2v-1.1M349.4 234.8v1.1M351.5 319.2v-1.1M351.5 234.8v1.1M353.5 319.2v-1.1M353.5 234.8v1.1M355.6 319.2v-1.1M355.6 234.8v1.1M357.6 319.2v-1.1M357.6 234.8v1.1M359.7 319.2v-1.1M359.7 234.8v1.1M361.7 319.2v-2.4M361.7 234.8v2.4M363.8 319.2v-1.1M363.8 234.8v1.1M365.8 319.2v-1.1M365.8 234.8v1.1M367.9 319.2v-1.1M367.9 234.8v1.1M369.9 319.2v-1.1M369.9 234.8v1.1M372 319.2v-1.1M372 234.8v1.1M374.1 319.2v-1.1M374.1 234.8v1.1M376.1 319.2v-1.1M376.1 234.8v1.1M378.2 319.2v-1.1M378.2 234.8v1.1M380.2 319.2v-1.1M380.2 234.8v1.1M382.3 319.2v-1.1M382.3 234.8v1.1M384.3 319.2v-1.1M384.3 234.8v1.1M386.4 319.2v-2.4M386.4 234.8v2.4M388.4 319.2v-1.1M388.4 234.8v1.1M390.5 319.2v-1.1M390.5 234.8v1.1M392.5 319.2v-1.1M392.5 234.8v1.1M394.6 319.2v-1.1M394.6 234.8v1.1M396.6 319.2v-1.1M396.6 234.8v1.1M398.7 319.2v-1.1M398.7 234.8v1.1M400.7 319.2v-1.1M400.7 234.8v1.1M402.8 319.2v-1.1M402.8 234.8v1.1M404.8 319.2v-1.1M404.8 234.8v1.1M406.9 319.2v-1.1M406.9 234.8v1.1M408.9 319.2v-1.1M408.9 234.8v1.1M411 319.2v-2.4M411 234.8v2.4M413 319.2v-1.1M413 234.8v1.1M415.1 319.2v-1.1M415.1 234.8v1.1M417.1 319.2v-1.1M417.1 234.8v1.1M419.2 319.2v-1.1M419.2 234.8v1.1M421.2 319.2v-1.1M421.2 234.8v1.1M423.3 319.2v-1.1M423.3 234.8v1.1M425.3 319.2v-1.1M425.3 234.8v1.1M427.4 319.2v-1.1M427.4 234.8v1.1M429.4 319.2v-1.1M429.4 234.8v1.1M431.5 319.2v-1.1M431.5 234.8v1.1M433.5 319.2v-1.1M433.5 234.8v1.1M435.6 319.2v-2.4M435.6 234.8v2.4M437.7 319.2v-1.1M437.7 234.8v1.1M183.3 317.8h2.4M438.4 317.8h-2.4M183.3 313.9h1.1M438.4 313.9h-1.1M183.3 310h1.1M438.4 310h-1.1M183.3 306.2h1.1M438.4 306.2h-1.1M183.3 302.3h1.1M438.4 302.3h-1.1M183.3 298.4h2.4M438.4 298.4h-2.4M183.3 294.5h1.1M438.4 294.5h-1.1M183.3 290.6h1.1M438.4 290.6h-1.1M183.3 286.8h1.1M438.4 286.8h-1.1M183.3 282.9h1.1M438.4 282.9h-1.1M183.3 279h2.4M438.4 279h-2.4M183.3 275.1h1.1M438.4 275.1h-1.1M183.3 271.2h1.1M438.4 271.2h-1.1M183.3 267.4h1.1M438.4 267.4h-1.1M183.3 263.5h1.1M438.4 263.5h-1.1M183.3 259.6h2.4M438.4 259.6h-2.4M183.3 255.7h1.1M438.4 255.7h-1.1M183.3 251.8h1.1M438.4 251.8h-1.1M183.3 248h1.1M438.4 248h-1.1M183.3 244.1h1.1M438.4 244.1h-1.1M183.3 240.2h2.4M438.4 240.2h-2.4M183.3 236.3h1.1M438.4 236.3h-1.1" stroke="#222" stroke-width="0.6" fill="none"/>
<rect x="183.3" y="234.8" width="255.1" height="84.4" fill="none" stroke="#1a1a1a" stroke-width="0.8"/>
<text transform="translate(189.4 327.1) scale(1.07 1)" font-size="7.3" text-anchor="middle">2004</text>
<text transform="translate(214 327.1) scale(1.07 1)" font-size="7.3" text-anchor="middle">2005</text>
<text transform="translate(238.6 327.1) scale(1.07 1)" font-size="7.3" text-anchor="middle">2006</text>
<text transform="translate(263.3 327.1) scale(1.07 1)" font-size="7.3" text-anchor="middle">2007</text>
<text transform="translate(287.9 327.1) scale(1.07 1)" font-size="7.3" text-anchor="middle">2008</text>
<text transform="translate(312.5 327.1) scale(1.07 1)" font-size="7.3" text-anchor="middle">2009</text>
<text transform="translate(337.1 327.1) scale(1.07 1)" font-size="7.3" text-anchor="middle">2010</text>
<text transform="translate(361.7 327.1) scale(1.07 1)" font-size="7.3" text-anchor="middle">2011</text>
<text transform="translate(386.4 327.1) scale(1.07 1)" font-size="7.3" text-anchor="middle">2012</text>
<text transform="translate(411 327.1) scale(1.07 1)" font-size="7.3" text-anchor="middle">2013</text>
<text transform="translate(435.6 327.1) scale(1.07 1)" font-size="7.3" text-anchor="middle">2014</text>
<text transform="translate(179.9 242.7) scale(1.15 1)" font-size="6.5" text-anchor="end">1x10<tspan font-size="4.0" dy="-2.9" dx="-0.2">4</tspan></text>
<text transform="translate(181.8 262) scale(1.2 1)" font-size="7.0" text-anchor="end">0</text>
<text transform="translate(179.9 281.5) scale(1.15 1)" font-size="6.5" text-anchor="end">-1x10<tspan font-size="4.0" dy="-2.9" dx="-0.2">4</tspan></text>
<text transform="translate(179.9 300.9) scale(1.15 1)" font-size="6.5" text-anchor="end">-2x10<tspan font-size="4.0" dy="-2.9" dx="-0.2">4</tspan></text>
<text transform="translate(179.9 320.3) scale(1.15 1)" font-size="6.5" text-anchor="end">-3x10<tspan font-size="4.0" dy="-2.9" dx="-0.2">4</tspan></text>
<text transform="translate(154.9 277) rotate(-90) scale(1 0.78)" font-size="9.3" text-anchor="middle">Δλ (km)</text>
<text transform="translate(310.9 232.4) scale(1.07 1)" font-size="9.4" text-anchor="middle">L5c02</text>
<g clip-path="url(#c5)">
<path d="M183.3 395.2 187.5 397.2 191.7 398.6 195.9 399.4 201.1 400 204.7 400 207.7 399.6 212.1 398.3 215.9 396.7 219.5 394.3 225.1 389.9 233.5 382.8 238.9 377.7 242.3 374 245.1 370.5 252.1 359.3 255.1 355.2 256.9 353.5 259.7 352.4 261.1 352.4 262.1 353.7 262.7 355.1 263.1 356.9 264.1 366.8 265.7 374.6 268.1 381.6 271.5 388.4 274.7 392.9 278.1 396.1 280.5 397.5 282.9 398.5 285.3 399.1 287.9 399.5 297.1 399.4 299.9 398.9 302.7 398 306.9 396.2 312.5 393.2 317.1 390.4 321.9 387.2 330.1 381.1 336.1 376 339.7 372.5 342.9 368.6 355.1 351.7 356.3 351.7 357.1 352.4 358.1 353.7 358.9 355.6 359.3 357.5 360.7 369.7 362.3 379.6 363.9 385.2 365.9 389.4 368.7 392.9 370.5 394.4 372.3 395.5 374.9 396.7 378.7 398.1 384.9 399.8 390.9 400.5 393.5 400.3 396.1 399.8 399.1 398.9 402.3 397.7 409.1 394 416.9 388.5 424.5 381.9 431.7 374.5 438.3 366.6 438.3 373.6 433.7 379.5 428.7 385.2 423.7 390.3 418.3 395.3 413.5 399.2 408.3 403 404.5 405.5 400.9 407.5 397.1 409.2 393.5 410.3 390.3 410.9 387.1 410.9 384.1 409.9 380.7 408.5 375.1 405.6 372.7 404.1 370.3 402.3 368.1 400.2 366.1 397.8 364.5 395.4 362.3 390.7 360.7 385.3 358.3 371.6 357.3 361.5 356.7 359.2 355.7 357.4 350.1 363.5 342.9 373.6 339.5 377.7 318.3 397 309.9 403.6 303.3 408 300.5 409.4 297.9 410.4 295.3 411.1 292.9 411.4 290.1 410.9 287.3 410 284.7 408.8 282.1 407.3 277.9 404 270.1 398.6 266.7 394.3 264.5 390.6 262.7 386.9 261.1 382.6 259.9 378.5 259.3 374.7 258.5 361 258.1 359.1 252.7 365.8 244.5 378.1 240.3 383.2 236.5 387 231.9 391.3 222.9 399 218.3 402.6 213.1 405.8 209.7 407.6 205.1 409.5 200.9 410.8 195.5 411.8 191.5 412.2 187.3 412.1 183.3 411.5Z" fill="#c6c6c6"/>
<path d="M183.3 398.8 187.3 400.5 191.5 401.6 195.7 402.3 200.5 402.5 204.9 402.2 209.3 401.3 213.7 399.9 216.7 398.4 220.7 395.6 229.3 388.4 235.3 383.1 239.9 378.6 242.9 375.2 245.3 372.1 251.9 361.5 254.3 358.1 257.1 354.9 259.5 353 260.7 354.4 261.5 356.8 262.7 368 264.5 376.2 266.9 382.9 269.9 388.6 271.9 391.5 274.3 394.4 276.3 396.4 278.7 398.2 281.3 399.8 284.1 401.1 286.9 401.9 289.9 402.4 292.9 402.4 297.1 402 299.9 401.4 302.7 400.5 306.5 398.6 311.7 395.6 315.1 393.5 319.7 390.1 334.5 377.8 339.7 372.9 342.9 369.1 355.1 352.1 356.5 354.1 357.3 356.8 358.3 366.9 360.7 380.5 362.1 385.1 364.1 389.4 365.5 391.4 367.3 393.5 369.3 395.3 371.5 396.8 374.5 398.4 377.1 399.4 381.3 400.8 384.9 401.7 387.9 402.1 391.1 402.1 396.1 401.4 402.3 399.2 408.9 395.6 416.7 390.1 424.3 383.5 431.5 376.2 438.3 368.1 438.3 372.1 434.5 377 429.9 382.4 425.3 387.2 420.5 391.7 415.5 396 407.7 401.7 400.7 405.6 397.3 406.9 394.1 407.8 390.9 408.3 388.7 408.2 385.5 407.5 382.1 406.3 371.9 401.4 369.7 400 367.7 398.3 364.5 394.3 362.3 390 360.7 384.8 358.3 371.2 357.3 361.1 356.5 358.4 355.1 356.3 341.5 375 338.1 378.7 333.5 382.8 319.7 394.1 305.9 404 302.1 406.1 298.7 407.5 295.1 408.4 292.9 408.4 289.7 408 286.5 407.1 283.5 405.8 280.7 404.1 278.1 402.1 275.5 399.7 272.7 396.5 270.3 393.2 267.1 387.3 264.7 380.8 263.5 376.2 262.7 371.9 261.5 360.7 260.7 358.3 259.5 356.9 257.1 358.7 254.3 361.9 251.9 365.3 245.5 375.6 243.1 378.8 240.1 382.2 236.3 386 231.3 390.4 222.1 398.1 217.9 401.2 212.9 404.1 209.1 405.9 204.7 407.4 200.3 408.4 196.3 408.8 191.7 408.7 187.5 408 183.3 406.8Z" fill="#8c8c8c"/>
<path d="M183.3 402.8 187.4 404.2 191.6 405.2 195.8 405.6 200.3 405.5 204.7 404.8 209 403.7 213.2 402 217.2 399.9 221.1 397.1 230.3 389.4 235.7 384.6 240 380.4 242.9 377.1 245.4 373.8 251.9 363.5 254.3 360 257.1 356.8 259.6 354.9 260.7 356.4 261.5 358.6 262.7 370 264.5 378.2 266.9 384.8 270 390.8 272.2 393.9 274.5 396.6 277.1 399.1 279.6 401.1 282.4 402.7 285.1 403.9 288.3 404.8 291.2 405.3 294.2 405.3 297.2 404.9 300 404.1 303.3 402.8 307.1 400.7 312.6 397.1 322 390.3 335.1 379.4 340 374.7 343.1 370.9 355.1 354.2 356.4 356 357.2 358.7 358.3 369.2 360.7 382.7 362.3 387.7 364.3 391.8 365.8 394 367.5 395.9 369.5 397.6 371.6 399.1 374.8 400.7 379.9 402.8 383.3 404 386.4 404.8 388.9 405.1 391.5 405.1 394.1 404.7 396.9 404 403.4 401.4 409.9 397.5 417.6 391.8 424.9 385.2 432 377.9 438.4 370" fill="none" stroke="#151515" stroke-width="1.15" stroke-linejoin="round"/>
<path d="M213.9 389.5V416.3M212.2 389.5h3.4M212.2 416.3h3.4" stroke="#333" stroke-width="0.85" fill="none"/>
<rect x="212.7" y="397.3" width="2.4" height="2.4" fill="#000"/>
<rect x="212.7" y="401.4" width="2.4" height="2.4" fill="#000"/>
<rect x="212.7" y="407.6" width="2.4" height="2.4" fill="#000"/>
<path d="M217.8 387.5V412.9M216.1 387.5h3.4M216.1 412.9h3.4" stroke="#333" stroke-width="0.85" fill="none"/>
<rect x="216.6" y="391.1" width="2.4" height="2.4" fill="#000"/>
<rect x="216.6" y="396.6" width="2.4" height="2.4" fill="#000"/>
<path d="M221.9 386.8V408.1M220.2 386.8h3.4M220.2 408.1h3.4" stroke="#333" stroke-width="0.85" fill="none"/>
<rect x="220.7" y="391.8" width="2.4" height="2.4" fill="#000"/>
<rect x="220.7" y="396.6" width="2.4" height="2.4" fill="#000"/>
<path d="M235.9 373V387.5M234.2 373h3.4M234.2 387.5h3.4" stroke="#333" stroke-width="0.85" fill="none"/>
<rect x="234.7" y="379.4" width="2.4" height="2.4" fill="#000"/>
<path d="M266.9 374.2V390.6M265.2 374.2h3.4M265.2 390.6h3.4" stroke="#333" stroke-width="0.85" fill="none"/>
<rect x="265.7" y="377.8" width="2.4" height="2.4" fill="#000"/>
<rect x="265.7" y="386" width="2.4" height="2.4" fill="#000"/>
<path d="M296.9 396.8V416.8M295.2 396.8h3.4M295.2 416.8h3.4" stroke="#333" stroke-width="0.85" fill="none"/>
<rect x="295.7" y="402.6" width="2.4" height="2.4" fill="#000"/>
<rect x="295.7" y="406" width="2.4" height="2.4" fill="#000"/>
<rect x="295.7" y="409.4" width="2.4" height="2.4" fill="#000"/>
<path d="M338.1 369.4V386.5M336.4 369.4h3.4M336.4 386.5h3.4" stroke="#333" stroke-width="0.85" fill="none"/>
<rect x="336.9" y="374.3" width="2.4" height="2.4" fill="#000"/>
<rect x="336.9" y="376.3" width="2.4" height="2.4" fill="#000"/>
<rect x="336.9" y="378.3" width="2.4" height="2.4" fill="#000"/>
<path d="M338.9 374.5V380.5M337.2 374.5h3.4M337.2 380.5h3.4" stroke="#333" stroke-width="0.85" fill="none"/>
<rect x="337.7" y="375.3" width="2.4" height="2.4" fill="#000"/>
<rect x="337.7" y="377.3" width="2.4" height="2.4" fill="#000"/>
<path d="M344.4 363.9V371.4M342.7 363.9h3.4M342.7 371.4h3.4" stroke="#333" stroke-width="0.85" fill="none"/>
<rect x="343.2" y="364.3" width="2.4" height="2.4" fill="#000"/>
<rect x="343.2" y="366.3" width="2.4" height="2.4" fill="#000"/>
<rect x="343.2" y="368.3" width="2.4" height="2.4" fill="#000"/>
<path d="M346 363.5V370M344.3 363.5h3.4M344.3 370h3.4" stroke="#333" stroke-width="0.85" fill="none"/>
<rect x="344.8" y="363.6" width="2.4" height="2.4" fill="#000"/>
<rect x="344.8" y="365.6" width="2.4" height="2.4" fill="#000"/>
<rect x="344.8" y="367.3" width="2.4" height="2.4" fill="#000"/>
<path d="M362 384.5V388.5M360.3 384.5h3.4M360.3 388.5h3.4" stroke="#333" stroke-width="0.85" fill="none"/>
<rect x="360.8" y="385.3" width="2.4" height="2.4" fill="#000"/>
</g>
<path d="M185.3 421.2v-1.1M185.3 336.6v1.1M187.3 421.2v-1.1M187.3 336.6v1.1M189.4 421.2v-2.4M189.4 336.6v2.4M191.5 421.2v-1.1M191.5 336.6v1.1M193.5 421.2v-1.1M193.5 336.6v1.1M195.6 421.2v-1.1M195.6 336.6v1.1M197.6 421.2v-1.1M197.6 336.6v1.1M199.7 421.2v-1.1M199.7 336.6v1.1M201.7 421.2v-1.1M201.7 336.6v1.1M203.8 421.2v-1.1M203.8 336.6v1.1M205.8 421.2v-1.1M205.8 336.6v1.1M207.9 421.2v-1.1M207.9 336.6v1.1M209.9 421.2v-1.1M209.9 336.6v1.1M212 421.2v-1.1M212 336.6v1.1M214 421.2v-2.4M214 336.6v2.4M216.1 421.2v-1.1M216.1 336.6v1.1M218.1 421.2v-1.1M218.1 336.6v1.1M220.2 421.2v-1.1M220.2 336.6v1.1M222.2 421.2v-1.1M222.2 336.6v1.1M224.3 421.2v-1.1M224.3 336.6v1.1M226.3 421.2v-1.1M226.3 336.6v1.1M228.4 421.2v-1.1M228.4 336.6v1.1M230.4 421.2v-1.1M230.4 336.6v1.1M232.5 421.2v-1.1M232.5 336.6v1.1M234.5 421.2v-1.1M234.5 336.6v1.1M236.6 421.2v-1.1M236.6 336.6v1.1M238.6 421.2v-2.4M238.6 336.6v2.4M240.7 421.2v-1.1M240.7 336.6v1.1M242.7 421.2v-1.1M242.7 336.6v1.1M244.8 421.2v-1.1M244.8 336.6v1.1M246.8 421.2v-1.1M246.8 336.6v1.1M248.9 421.2v-1.1M248.9 336.6v1.1M251 421.2v-1.1M251 336.6v1.1M253 421.2v-1.1M253 336.6v1.1M255.1 421.2v-1.1M255.1 336.6v1.1M257.1 421.2v-1.1M257.1 336.6v1.1M259.2 421.2v-1.1M259.2 336.6v1.1M261.2 421.2v-1.1M261.2 336.6v1.1M263.3 421.2v-2.4M263.3 336.6v2.4M265.3 421.2v-1.1M265.3 336.6v1.1M267.4 421.2v-1.1M267.4 336.6v1.1M269.4 421.2v-1.1M269.4 336.6v1.1M271.5 421.2v-1.1M271.5 336.6v1.1M273.5 421.2v-1.1M273.5 336.6v1.1M275.6 421.2v-1.1M275.6 336.6v1.1M277.6 421.2v-1.1M277.6 336.6v1.1M279.7 421.2v-1.1M279.7 336.6v1.1M281.7 421.2v-1.1M281.7 336.6v1.1M283.8 421.2v-1.1M283.8 336.6v1.1M285.8 421.2v-1.1M285.8 336.6v1.1M287.9 421.2v-2.4M287.9 336.6v2.4M289.9 421.2v-1.1M289.9 336.6v1.1M292 421.2v-1.1M292 336.6v1.1M294 421.2v-1.1M294 336.6v1.1M296.1 421.2v-1.1M296.1 336.6v1.1M298.1 421.2v-1.1M298.1 336.6v1.1M300.2 421.2v-1.1M300.2 336.6v1.1M302.2 421.2v-1.1M302.2 336.6v1.1M304.3 421.2v-1.1M304.3 336.6v1.1M306.3 421.2v-1.1M306.3 336.6v1.1M308.4 421.2v-1.1M308.4 336.6v1.1M310.4 421.2v-1.1M310.4 336.6v1.1M312.5 421.2v-2.4M312.5 336.6v2.4M314.6 421.2v-1.1M314.6 336.6v1.1M316.6 421.2v-1.1M316.6 336.6v1.1M318.7 421.2v-1.1M318.7 336.6v1.1M320.7 421.2v-1.1M320.7 336.6v1.1M322.8 421.2v-1.1M322.8 336.6v1.1M324.8 421.2v-1.1M324.8 336.6v1.1M326.9 421.2v-1.1M326.9 336.6v1.1M328.9 421.2v-1.1M328.9 336.6v1.1M331 421.2v-1.1M331 336.6v1.1M333 421.2v-1.1M333 336.6v1.1M335.1 421.2v-1.1M335.1 336.6v1.1M337.1 421.2v-2.4M337.1 336.6v2.4M339.2 421.2v-1.1M339.2 336.6v1.1M341.2 421.2v-1.1M341.2 336.6v1.1M343.3 421.2v-1.1M343.3 336.6v1.1M345.3 421.2v-1.1M345.3 336.6v1.1M347.4 421.2v-1.1M347.4 336.6v1.1M349.4 421.2v-1.1M349.4 336.6v1.1M351.5 421.2v-1.1M351.5 336.6v1.1M353.5 421.2v-1.1M353.5 336.6v1.1M355.6 421.2v-1.1M355.6 336.6v1.1M357.6 421.2v-1.1M357.6 336.6v1.1M359.7 421.2v-1.1M359.7 336.6v1.1M361.7 421.2v-2.4M361.7 336.6v2.4M363.8 421.2v-1.1M363.8 336.6v1.1M365.8 421.2v-1.1M365.8 336.6v1.1M367.9 421.2v-1.1M367.9 336.6v1.1M369.9 421.2v-1.1M369.9 336.6v1.1M372 421.2v-1.1M372 336.6v1.1M374.1 421.2v-1.1M374.1 336.6v1.1M376.1 421.2v-1.1M376.1 336.6v1.1M378.2 421.2v-1.1M378.2 336.6v1.1M380.2 421.2v-1.1M380.2 336.6v1.1M382.3 421.2v-1.1M382.3 336.6v1.1M384.3 421.2v-1.1M384.3 336.6v1.1M386.4 421.2v-2.4M386.4 336.6v2.4M388.4 421.2v-1.1M388.4 336.6v1.1M390.5 421.2v-1.1M390.5 336.6v1.1M392.5 421.2v-1.1M392.5 336.6v1.1M394.6 421.2v-1.1M394.6 336.6v1.1M396.6 421.2v-1.1M396.6 336.6v1.1M398.7 421.2v-1.1M398.7 336.6v1.1M400.7 421.2v-1.1M400.7 336.6v1.1M402.8 421.2v-1.1M402.8 336.6v1.1M404.8 421.2v-1.1M404.8 336.6v1.1M406.9 421.2v-1.1M406.9 336.6v1.1M408.9 421.2v-1.1M408.9 336.6v1.1M411 421.2v-2.4M411 336.6v2.4M413 421.2v-1.1M413 336.6v1.1M415.1 421.2v-1.1M415.1 336.6v1.1M417.1 421.2v-1.1M417.1 336.6v1.1M419.2 421.2v-1.1M419.2 336.6v1.1M421.2 421.2v-1.1M421.2 336.6v1.1M423.3 421.2v-1.1M423.3 336.6v1.1M425.3 421.2v-1.1M425.3 336.6v1.1M427.4 421.2v-1.1M427.4 336.6v1.1M429.4 421.2v-1.1M429.4 336.6v1.1M431.5 421.2v-1.1M431.5 336.6v1.1M433.5 421.2v-1.1M433.5 336.6v1.1M435.6 421.2v-2.4M435.6 336.6v2.4M437.7 421.2v-1.1M437.7 336.6v1.1M183.3 419.8h2.4M438.4 419.8h-2.4M183.3 415.9h1.1M438.4 415.9h-1.1M183.3 412h1.1M438.4 412h-1.1M183.3 408.2h1.1M438.4 408.2h-1.1M183.3 404.3h1.1M438.4 404.3h-1.1M183.3 400.4h2.4M438.4 400.4h-2.4M183.3 396.5h1.1M438.4 396.5h-1.1M183.3 392.6h1.1M438.4 392.6h-1.1M183.3 388.8h1.1M438.4 388.8h-1.1M183.3 384.9h1.1M438.4 384.9h-1.1M183.3 381h2.4M438.4 381h-2.4M183.3 377.1h1.1M438.4 377.1h-1.1M183.3 373.2h1.1M438.4 373.2h-1.1M183.3 369.4h1.1M438.4 369.4h-1.1M183.3 365.5h1.1M438.4 365.5h-1.1M183.3 361.6h2.4M438.4 361.6h-2.4M183.3 357.7h1.1M438.4 357.7h-1.1M183.3 353.8h1.1M438.4 353.8h-1.1M183.3 350h1.1M438.4 350h-1.1M183.3 346.1h1.1M438.4 346.1h-1.1M183.3 342.2h2.4M438.4 342.2h-2.4M183.3 338.3h1.1M438.4 338.3h-1.1" stroke="#222" stroke-width="0.6" fill="none"/>
<rect x="183.3" y="336.6" width="255.1" height="84.6" fill="none" stroke="#1a1a1a" stroke-width="0.8"/>
<text transform="translate(189.4 429.1) scale(1.07 1)" font-size="7.3" text-anchor="middle">2004</text>
<text transform="translate(214 429.1) scale(1.07 1)" font-size="7.3" text-anchor="middle">2005</text>
<text transform="translate(238.6 429.1) scale(1.07 1)" font-size="7.3" text-anchor="middle">2006</text>
<text transform="translate(263.3 429.1) scale(1.07 1)" font-size="7.3" text-anchor="middle">2007</text>
<text transform="translate(287.9 429.1) scale(1.07 1)" font-size="7.3" text-anchor="middle">2008</text>
<text transform="translate(312.5 429.1) scale(1.07 1)" font-size="7.3" text-anchor="middle">2009</text>
<text transform="translate(337.1 429.1) scale(1.07 1)" font-size="7.3" text-anchor="middle">2010</text>
<text transform="translate(361.7 429.1) scale(1.07 1)" font-size="7.3" text-anchor="middle">2011</text>
<text transform="translate(386.4 429.1) scale(1.07 1)" font-size="7.3" text-anchor="middle">2012</text>
<text transform="translate(411 429.1) scale(1.07 1)" font-size="7.3" text-anchor="middle">2013</text>
<text transform="translate(435.6 429.1) scale(1.07 1)" font-size="7.3" text-anchor="middle">2014</text>
<text transform="translate(179.9 344.7) scale(1.15 1)" font-size="6.5" text-anchor="end">1x10<tspan font-size="4.0" dy="-2.9" dx="-0.2">4</tspan></text>
<text transform="translate(181.8 364) scale(1.2 1)" font-size="7.0" text-anchor="end">0</text>
<text transform="translate(179.9 383.5) scale(1.15 1)" font-size="6.5" text-anchor="end">-1x10<tspan font-size="4.0" dy="-2.9" dx="-0.2">4</tspan></text>
<text transform="translate(179.9 402.9) scale(1.15 1)" font-size="6.5" text-anchor="end">-2x10<tspan font-size="4.0" dy="-2.9" dx="-0.2">4</tspan></text>
<text transform="translate(179.9 422.3) scale(1.15 1)" font-size="6.5" text-anchor="end">-3x10<tspan font-size="4.0" dy="-2.9" dx="-0.2">4</tspan></text>
<text transform="translate(154.9 378.9) rotate(-90) scale(1 0.78)" font-size="9.3" text-anchor="middle">Δϕ (km)</text>
<text x="310.9" y="437" font-size="8.8" text-anchor="middle">UTC Date</text>
</svg></body></html>
